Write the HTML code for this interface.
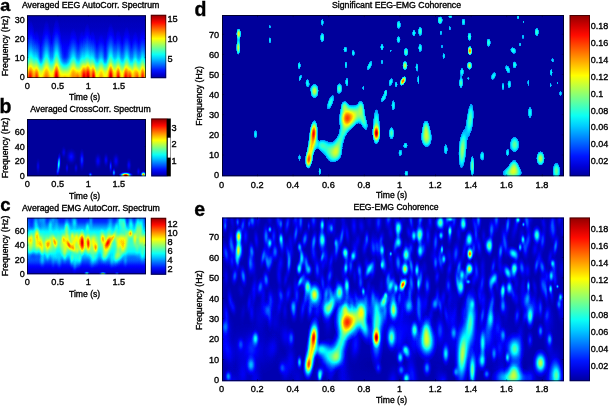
<!DOCTYPE html>
<html><head><meta charset="utf-8"><title>EEG-EMG Coherence</title>
<style>html,body{margin:0;padding:0;background:#fff}svg{display:block}text{font-family:"Liberation Sans",Arial,sans-serif;fill:#000;stroke:#000;stroke-width:0.35px}</style></head><body>
<svg width="609" height="407" viewBox="0 0 609 407">
<defs>
<radialGradient id="g"><stop offset="0.000" stop-color="#fff" stop-opacity="1.000"/><stop offset="0.071" stop-color="#fff" stop-opacity="0.983"/><stop offset="0.143" stop-color="#fff" stop-opacity="0.933"/><stop offset="0.214" stop-color="#fff" stop-opacity="0.856"/><stop offset="0.286" stop-color="#fff" stop-opacity="0.759"/><stop offset="0.357" stop-color="#fff" stop-opacity="0.650"/><stop offset="0.429" stop-color="#fff" stop-opacity="0.538"/><stop offset="0.500" stop-color="#fff" stop-opacity="0.430"/><stop offset="0.571" stop-color="#fff" stop-opacity="0.332"/><stop offset="0.643" stop-color="#fff" stop-opacity="0.247"/><stop offset="0.714" stop-color="#fff" stop-opacity="0.178"/><stop offset="0.786" stop-color="#fff" stop-opacity="0.124"/><stop offset="0.857" stop-color="#fff" stop-opacity="0.083"/><stop offset="0.929" stop-color="#fff" stop-opacity="0.054"/><stop offset="1.000" stop-color="#fff" stop-opacity="0.000"/></radialGradient>
<radialGradient id="gf"><stop offset="0.000" stop-color="#fff" stop-opacity="1.000"/><stop offset="0.071" stop-color="#fff" stop-opacity="1.000"/><stop offset="0.143" stop-color="#fff" stop-opacity="0.997"/><stop offset="0.214" stop-color="#fff" stop-opacity="0.983"/><stop offset="0.286" stop-color="#fff" stop-opacity="0.948"/><stop offset="0.357" stop-color="#fff" stop-opacity="0.878"/><stop offset="0.429" stop-color="#fff" stop-opacity="0.763"/><stop offset="0.500" stop-color="#fff" stop-opacity="0.607"/><stop offset="0.571" stop-color="#fff" stop-opacity="0.426"/><stop offset="0.643" stop-color="#fff" stop-opacity="0.255"/><stop offset="0.714" stop-color="#fff" stop-opacity="0.125"/><stop offset="0.786" stop-color="#fff" stop-opacity="0.047"/><stop offset="0.857" stop-color="#fff" stop-opacity="0.013"/><stop offset="0.929" stop-color="#fff" stop-opacity="0.003"/><stop offset="1.000" stop-color="#fff" stop-opacity="0.000"/></radialGradient>
<filter id="jet" x="0" y="0" width="1" height="1" color-interpolation-filters="sRGB"><feGaussianBlur stdDeviation="0.6"/><feComponentTransfer><feFuncR type="table" tableValues="0.000 0.000 0.000 0.000 0.000 0.000 0.000 0.000 0.000 0.000 0.000 0.000 0.000 0.000 0.000 0.000 0.000 0.000 0.000 0.000 0.000 0.000 0.000 0.000 0.000 0.000 0.000 0.000 0.000 0.000 0.000 0.000 0.000 0.000 0.000 0.000 0.000 0.000 0.000 0.000 0.000 0.000 0.000 0.000 0.000 0.000 0.000 0.025 0.055 0.085 0.115 0.145 0.175 0.206 0.236 0.266 0.296 0.326 0.356 0.386 0.417 0.447 0.477 0.507 0.537 0.567 0.597 0.627 0.658 0.688 0.718 0.748 0.778 0.808 0.838 0.869 0.899 0.929 0.959 0.989 1.000 1.000 1.000 1.000 1.000 1.000 1.000 1.000 1.000 1.000 1.000 1.000 1.000 1.000 1.000 1.000 1.000 1.000 1.000 1.000 1.000 1.000 1.000 1.000 1.000 1.000 1.000 1.000 1.000 1.000 1.000 1.000 1.000 0.986 0.956 0.926 0.896 0.865 0.835 0.805 0.775 0.745 0.715 0.685 0.654 0.624 0.594 0.564"/><feFuncG type="table" tableValues="0.000 0.000 0.000 0.000 0.000 0.000 0.000 0.000 0.000 0.000 0.000 0.000 0.000 0.000 0.030 0.060 0.090 0.120 0.151 0.181 0.211 0.241 0.271 0.301 0.331 0.362 0.392 0.422 0.452 0.482 0.512 0.542 0.573 0.603 0.633 0.663 0.693 0.723 0.753 0.784 0.814 0.844 0.874 0.904 0.934 0.964 0.995 1.000 1.000 1.000 1.000 1.000 1.000 1.000 1.000 1.000 1.000 1.000 1.000 1.000 1.000 1.000 1.000 1.000 1.000 1.000 1.000 1.000 1.000 1.000 1.000 1.000 1.000 1.000 1.000 1.000 1.000 1.000 1.000 1.000 0.981 0.951 0.920 0.890 0.860 0.830 0.800 0.770 0.740 0.709 0.679 0.649 0.619 0.589 0.559 0.529 0.498 0.468 0.438 0.408 0.378 0.348 0.318 0.287 0.257 0.227 0.197 0.167 0.137 0.107 0.076 0.046 0.016 0.000 0.000 0.000 0.000 0.000 0.000 0.000 0.000 0.000 0.000 0.000 0.000 0.000 0.000 0.000"/><feFuncB type="table" tableValues="0.608 0.638 0.668 0.698 0.729 0.759 0.789 0.819 0.849 0.879 0.909 0.940 0.970 1.000 1.000 1.000 1.000 1.000 1.000 1.000 1.000 1.000 1.000 1.000 1.000 1.000 1.000 1.000 1.000 1.000 1.000 1.000 1.000 1.000 1.000 1.000 1.000 1.000 1.000 1.000 1.000 1.000 1.000 1.000 1.000 1.000 1.000 0.975 0.945 0.915 0.885 0.855 0.825 0.794 0.764 0.734 0.704 0.674 0.644 0.614 0.583 0.553 0.523 0.493 0.463 0.433 0.403 0.373 0.342 0.312 0.282 0.252 0.222 0.192 0.162 0.131 0.101 0.071 0.041 0.011 0.000 0.000 0.000 0.000 0.000 0.000 0.000 0.000 0.000 0.000 0.000 0.000 0.000 0.000 0.000 0.000 0.000 0.000 0.000 0.000 0.000 0.000 0.000 0.000 0.000 0.000 0.000 0.000 0.000 0.000 0.000 0.000 0.000 0.000 0.000 0.000 0.000 0.000 0.000 0.000 0.000 0.000 0.000 0.000 0.000 0.000 0.000 0.000"/></feComponentTransfer></filter>
<filter id="jetd" x="0" y="0" width="1" height="1" color-interpolation-filters="sRGB"><feGaussianBlur stdDeviation="0.3"/><feComponentTransfer><feFuncR type="table" tableValues="0.000 0.000 0.000 0.000 0.000 0.000 0.000 0.000 0.000 0.000 0.000 0.000 0.000 0.000 0.000 0.000 0.000 0.000 0.000 0.000 0.000 0.000 0.000 0.000 0.000 0.000 0.000 0.000 0.000 0.000 0.000 0.000 0.000 0.000 0.000 0.000 0.000 0.000 0.000 0.000 0.000 0.000 0.000 0.000 0.000 0.000 0.000 0.025 0.055 0.085 0.115 0.145 0.175 0.206 0.236 0.266 0.296 0.326 0.356 0.386 0.417 0.447 0.477 0.507 0.537 0.567 0.597 0.627 0.658 0.688 0.718 0.748 0.778 0.808 0.838 0.869 0.899 0.929 0.959 0.989 1.000 1.000 1.000 1.000 1.000 1.000 1.000 1.000 1.000 1.000 1.000 1.000 1.000 1.000 1.000 1.000 1.000 1.000 1.000 1.000 1.000 1.000 1.000 1.000 1.000 1.000 1.000 1.000 1.000 1.000 1.000 1.000 1.000 0.986 0.956 0.926 0.896 0.865 0.835 0.805 0.775 0.745 0.715 0.685 0.654 0.624 0.594 0.564"/><feFuncG type="table" tableValues="0.000 0.000 0.000 0.000 0.000 0.000 0.000 0.000 0.000 0.000 0.000 0.000 0.000 0.000 0.000 0.000 0.000 0.000 0.000 0.000 0.000 0.000 0.000 0.000 0.000 0.000 0.000 0.000 0.000 0.000 0.000 0.000 0.573 0.603 0.633 0.663 0.693 0.723 0.753 0.784 0.814 0.844 0.874 0.904 0.934 0.964 0.995 1.000 1.000 1.000 1.000 1.000 1.000 1.000 1.000 1.000 1.000 1.000 1.000 1.000 1.000 1.000 1.000 1.000 1.000 1.000 1.000 1.000 1.000 1.000 1.000 1.000 1.000 1.000 1.000 1.000 1.000 1.000 1.000 1.000 0.981 0.951 0.920 0.890 0.860 0.830 0.800 0.770 0.740 0.709 0.679 0.649 0.619 0.589 0.559 0.529 0.498 0.468 0.438 0.408 0.378 0.348 0.318 0.287 0.257 0.227 0.197 0.167 0.137 0.107 0.076 0.046 0.016 0.000 0.000 0.000 0.000 0.000 0.000 0.000 0.000 0.000 0.000 0.000 0.000 0.000 0.000 0.000"/><feFuncB type="table" tableValues="0.608 0.608 0.608 0.608 0.608 0.608 0.608 0.608 0.608 0.608 0.608 0.608 0.608 0.608 0.608 0.608 0.608 0.608 0.608 0.608 0.608 0.608 0.608 0.608 0.608 0.608 0.608 0.608 0.608 0.608 0.608 0.608 1.000 1.000 1.000 1.000 1.000 1.000 1.000 1.000 1.000 1.000 1.000 1.000 1.000 1.000 1.000 0.975 0.945 0.915 0.885 0.855 0.825 0.794 0.764 0.734 0.704 0.674 0.644 0.614 0.583 0.553 0.523 0.493 0.463 0.433 0.403 0.373 0.342 0.312 0.282 0.252 0.222 0.192 0.162 0.131 0.101 0.071 0.041 0.011 0.000 0.000 0.000 0.000 0.000 0.000 0.000 0.000 0.000 0.000 0.000 0.000 0.000 0.000 0.000 0.000 0.000 0.000 0.000 0.000 0.000 0.000 0.000 0.000 0.000 0.000 0.000 0.000 0.000 0.000 0.000 0.000 0.000 0.000 0.000 0.000 0.000 0.000 0.000 0.000 0.000 0.000 0.000 0.000 0.000 0.000 0.000 0.000"/></feComponentTransfer><feGaussianBlur stdDeviation="0.55"/></filter>
<linearGradient id="cb" x1="0" y1="0" x2="0" y2="1"><stop offset="0.0000" stop-color="#900000"/><stop offset="0.0625" stop-color="#cd0000"/><stop offset="0.1250" stop-color="#ff0b00"/><stop offset="0.1875" stop-color="#ff4800"/><stop offset="0.2500" stop-color="#ff8500"/><stop offset="0.3125" stop-color="#ffc200"/><stop offset="0.3750" stop-color="#ffff00"/><stop offset="0.4375" stop-color="#c2ff3d"/><stop offset="0.5000" stop-color="#85ff7a"/><stop offset="0.5625" stop-color="#48ffb7"/><stop offset="0.6250" stop-color="#0bfff4"/><stop offset="0.6875" stop-color="#00cdff"/><stop offset="0.7500" stop-color="#0090ff"/><stop offset="0.8125" stop-color="#0053ff"/><stop offset="0.8750" stop-color="#0016ff"/><stop offset="0.9375" stop-color="#0000d8"/><stop offset="1.0000" stop-color="#00009b"/></linearGradient>
<clipPath id="clipa"><rect x="27" y="15.2" width="119" height="62.8"/></clipPath>
<clipPath id="clipb"><rect x="27" y="119" width="119" height="57.30000000000001"/></clipPath>
<clipPath id="clipc"><rect x="27" y="217.7" width="119" height="56.60000000000002"/></clipPath>
<clipPath id="clipd"><rect x="222" y="15" width="342" height="161.3"/></clipPath>
<clipPath id="clipe"><rect x="222" y="217.5" width="342" height="163.7"/></clipPath>
<linearGradient id="abase" x1="0" y1="0" x2="0" y2="1"><stop offset="0.000" stop-color="rgb(6,6,6)"/><stop offset="0.238" stop-color="rgb(11,11,11)"/><stop offset="0.429" stop-color="rgb(21,21,21)"/><stop offset="0.556" stop-color="rgb(33,33,33)"/><stop offset="0.667" stop-color="rgb(48,48,48)"/><stop offset="0.746" stop-color="rgb(71,71,71)"/><stop offset="0.825" stop-color="rgb(107,107,107)"/><stop offset="0.905" stop-color="rgb(140,140,140)"/><stop offset="1.000" stop-color="rgb(158,158,158)"/></linearGradient><linearGradient id="cbase" x1="0" y1="0" x2="0" y2="1"><stop offset="0.000" stop-color="rgb(30,30,30)"/><stop offset="0.080" stop-color="rgb(39,39,39)"/><stop offset="0.150" stop-color="rgb(61,61,61)"/><stop offset="0.239" stop-color="rgb(89,89,89)"/><stop offset="0.345" stop-color="rgb(107,107,107)"/><stop offset="0.504" stop-color="rgb(107,107,107)"/><stop offset="0.611" stop-color="rgb(91,91,91)"/><stop offset="0.699" stop-color="rgb(71,71,71)"/><stop offset="0.770" stop-color="rgb(48,48,48)"/><stop offset="0.841" stop-color="rgb(31,31,31)"/><stop offset="0.912" stop-color="rgb(20,20,20)"/><stop offset="1.000" stop-color="rgb(10,10,10)"/></linearGradient><radialGradient id="k"><stop offset="0.000" stop-color="#000" stop-opacity="1.000"/><stop offset="0.071" stop-color="#000" stop-opacity="0.983"/><stop offset="0.143" stop-color="#000" stop-opacity="0.933"/><stop offset="0.214" stop-color="#000" stop-opacity="0.856"/><stop offset="0.286" stop-color="#000" stop-opacity="0.759"/><stop offset="0.357" stop-color="#000" stop-opacity="0.650"/><stop offset="0.429" stop-color="#000" stop-opacity="0.538"/><stop offset="0.500" stop-color="#000" stop-opacity="0.430"/><stop offset="0.571" stop-color="#000" stop-opacity="0.332"/><stop offset="0.643" stop-color="#000" stop-opacity="0.247"/><stop offset="0.714" stop-color="#000" stop-opacity="0.178"/><stop offset="0.786" stop-color="#000" stop-opacity="0.124"/><stop offset="0.857" stop-color="#000" stop-opacity="0.083"/><stop offset="0.929" stop-color="#000" stop-opacity="0.054"/><stop offset="1.000" stop-color="#000" stop-opacity="0.000"/></radialGradient>
</defs>
<g clip-path="url(#clipd)"><g filter="url(#jetd)">
<rect x="216" y="9" width="354" height="173.3" fill="rgb(0,0,0)"/>
<ellipse cx="238.7" cy="33.7" rx="4.30" ry="9.56" fill="url(#g)" opacity="0.63"/>
<ellipse cx="238.3" cy="47.5" rx="4.01" ry="14.03" fill="url(#g)" opacity="0.58"/>
<ellipse cx="269.9" cy="26.8" rx="3.36" ry="5.76" fill="url(#g)" opacity="0.33"/>
<ellipse cx="269.9" cy="40.2" rx="3.96" ry="8.52" fill="url(#g)" opacity="0.36"/>
<ellipse cx="322.3" cy="22.3" rx="3.96" ry="10.05" fill="url(#g)" opacity="0.36"/>
<ellipse cx="322.3" cy="37.6" rx="5.23" ry="11.49" fill="url(#g)" opacity="0.42"/>
<ellipse cx="299.2" cy="65.6" rx="4.40" ry="9.38" fill="url(#g)" opacity="0.38"/>
<ellipse cx="300.2" cy="78.0" rx="3.96" ry="10.05" fill="url(#g)" opacity="0.36" transform="rotate(20 300.2 78.0)"/>
<ellipse cx="307.3" cy="83.0" rx="5.11" ry="10.80" fill="url(#g)" opacity="0.38"/>
<ellipse cx="314.5" cy="91.0" rx="8.02" ry="14.03" fill="url(#g)" opacity="0.58"/>
<ellipse cx="339.5" cy="88.5" rx="5.99" ry="11.99" fill="url(#g)" opacity="0.45"/>
<ellipse cx="345.3" cy="49.5" rx="5.11" ry="7.96" fill="url(#g)" opacity="0.38"/>
<ellipse cx="353.2" cy="53.0" rx="4.40" ry="7.96" fill="url(#g)" opacity="0.38"/>
<ellipse cx="345.9" cy="64.8" rx="3.96" ry="10.05" fill="url(#g)" opacity="0.36"/>
<ellipse cx="346.9" cy="82.0" rx="4.40" ry="11.36" fill="url(#g)" opacity="0.38"/>
<ellipse cx="369.6" cy="65.6" rx="5.11" ry="14.21" fill="url(#g)" opacity="0.38" transform="rotate(25 369.6 65.6)"/>
<ellipse cx="363.3" cy="87.9" rx="3.36" ry="7.36" fill="url(#g)" opacity="0.33"/>
<ellipse cx="382" cy="47.1" rx="4.40" ry="9.38" fill="url(#g)" opacity="0.38"/>
<ellipse cx="382" cy="61.9" rx="3.36" ry="7.36" fill="url(#g)" opacity="0.34"/>
<ellipse cx="390.8" cy="50.8" rx="2.56" ry="4.16" fill="url(#g)" opacity="0.33"/>
<ellipse cx="390.8" cy="82.0" rx="5.11" ry="11.36" fill="url(#g)" opacity="0.38" transform="rotate(15 390.8 82.0)"/>
<ellipse cx="396.2" cy="84.5" rx="3.96" ry="8.52" fill="url(#g)" opacity="0.36"/>
<ellipse cx="385.7" cy="91.8" rx="3.36" ry="5.76" fill="url(#g)" opacity="0.33"/>
<ellipse cx="398.7" cy="24.8" rx="5.50" ry="10.73" fill="url(#g)" opacity="0.4"/>
<ellipse cx="398.5" cy="39.6" rx="5.68" ry="9.38" fill="url(#g)" opacity="0.38"/>
<ellipse cx="406" cy="52.0" rx="5.40" ry="9.59" fill="url(#g)" opacity="0.45"/>
<ellipse cx="405" cy="65.6" rx="5.01" ry="9.02" fill="url(#g)" opacity="0.58"/>
<ellipse cx="403" cy="81.0" rx="4.26" ry="8.52" fill="url(#g)" opacity="0.8" transform="rotate(25 403 81.0)"/>
<ellipse cx="413.9" cy="33.1" rx="4.40" ry="9.38" fill="url(#g)" opacity="0.38"/>
<ellipse cx="420.2" cy="31.3" rx="5.12" ry="11.23" fill="url(#g)" opacity="0.43"/>
<ellipse cx="420.2" cy="47.9" rx="4.83" ry="10.73" fill="url(#g)" opacity="0.4"/>
<ellipse cx="416.8" cy="67.2" rx="3.96" ry="11.57" fill="url(#g)" opacity="0.36"/>
<ellipse cx="418.4" cy="80.0" rx="3.20" ry="12.18" fill="url(#g)" opacity="0.36"/>
<ellipse cx="440.1" cy="20.3" rx="5.99" ry="9.11" fill="url(#g)" opacity="0.45"/>
<ellipse cx="450.3" cy="16.4" rx="5.11" ry="4.40" fill="url(#g)" opacity="0.38"/>
<ellipse cx="449.8" cy="28.2" rx="3.36" ry="7.36" fill="url(#g)" opacity="0.33"/>
<ellipse cx="440.9" cy="32.7" rx="4.16" ry="7.36" fill="url(#g)" opacity="0.33"/>
<ellipse cx="442" cy="46.5" rx="2.56" ry="7.36" fill="url(#g)" opacity="0.33"/>
<ellipse cx="443.8" cy="56.0" rx="3.96" ry="8.52" fill="url(#g)" opacity="0.36"/>
<ellipse cx="463.5" cy="21.9" rx="5.11" ry="9.38" fill="url(#g)" opacity="0.38"/>
<ellipse cx="469.5" cy="36.7" rx="5.10" ry="10.21" fill="url(#g)" opacity="0.42"/>
<ellipse cx="469.9" cy="50.8" rx="3.84" ry="7.67" fill="url(#g)" opacity="0.8"/>
<ellipse cx="469.5" cy="65.6" rx="5.01" ry="8.02" fill="url(#g)" opacity="0.58"/>
<ellipse cx="462" cy="71.5" rx="5.11" ry="9.38" fill="url(#g)" opacity="0.38"/>
<ellipse cx="461" cy="83.0" rx="4.80" ry="11.99" fill="url(#g)" opacity="0.45"/>
<ellipse cx="468.3" cy="78.4" rx="4.16" ry="4.16" fill="url(#g)" opacity="0.33"/>
<ellipse cx="488.6" cy="42.6" rx="5.10" ry="10.21" fill="url(#g)" opacity="0.42"/>
<ellipse cx="518.1" cy="17.3" rx="3.96" ry="5.48" fill="url(#g)" opacity="0.36"/>
<ellipse cx="523.4" cy="21.9" rx="2.56" ry="4.16" fill="url(#g)" opacity="0.33"/>
<ellipse cx="523" cy="36.7" rx="3.36" ry="7.36" fill="url(#g)" opacity="0.33"/>
<ellipse cx="520.1" cy="44.5" rx="3.36" ry="7.36" fill="url(#g)" opacity="0.33"/>
<ellipse cx="513.2" cy="50.5" rx="6.70" ry="8.85" fill="url(#g)" opacity="0.4" transform="rotate(-30 513.2 50.5)"/>
<ellipse cx="536.8" cy="32.1" rx="5.12" ry="9.99" fill="url(#g)" opacity="0.43"/>
<ellipse cx="514.6" cy="64.8" rx="5.50" ry="8.85" fill="url(#g)" opacity="0.4"/>
<ellipse cx="507.7" cy="69.2" rx="5.82" ry="11.36" fill="url(#g)" opacity="0.38" transform="rotate(-20 507.7 69.2)"/>
<ellipse cx="493.5" cy="76.0" rx="5.82" ry="11.36" fill="url(#g)" opacity="0.38" transform="rotate(20 493.5 76.0)"/>
<ellipse cx="503" cy="86.5" rx="3.96" ry="10.05" fill="url(#g)" opacity="0.36"/>
<ellipse cx="509.3" cy="84.3" rx="5.11" ry="10.80" fill="url(#g)" opacity="0.38"/>
<ellipse cx="528.4" cy="82.6" rx="3.36" ry="10.56" fill="url(#g)" opacity="0.33"/>
<ellipse cx="552.6" cy="60.3" rx="4.16" ry="7.36" fill="url(#g)" opacity="0.33"/>
<ellipse cx="551.2" cy="72.5" rx="3.96" ry="10.05" fill="url(#g)" opacity="0.36"/>
<ellipse cx="550.6" cy="85.3" rx="3.36" ry="7.36" fill="url(#g)" opacity="0.33"/>
<ellipse cx="557.5" cy="83.0" rx="2.56" ry="3.36" fill="url(#g)" opacity="0.33"/>
<ellipse cx="560.5" cy="93.5" rx="4.16" ry="7.36" fill="url(#g)" opacity="0.34"/>
<ellipse cx="255.5" cy="134.3" rx="5.48" ry="11.57" fill="url(#g)" opacity="0.36"/>
<ellipse cx="313.6" cy="133.5" rx="6.56" ry="21.31" fill="url(#g)" opacity="0.88" transform="rotate(4 313.6 133.5)"/>
<ellipse cx="311.2" cy="147.5" rx="6.73" ry="18.63" fill="url(#g)" opacity="0.55" transform="rotate(6 311.2 147.5)"/>
<ellipse cx="308.8" cy="159.5" rx="6.03" ry="15.51" fill="url(#g)" opacity="0.78" transform="rotate(5 308.8 159.5)"/>
<ellipse cx="299.5" cy="157.6" rx="4.16" ry="10.56" fill="url(#g)" opacity="0.33"/>
<ellipse cx="319.8" cy="171.5" rx="3.96" ry="10.05" fill="url(#g)" opacity="0.36"/>
<ellipse cx="330.5" cy="102.3" rx="6.70" ry="20.11" fill="url(#g)" opacity="0.4" transform="rotate(20 330.5 102.3)"/>
<ellipse cx="347.1" cy="117.8" rx="13.79" ry="18.96" fill="url(#g)" opacity="0.78"/>
<ellipse cx="344.5" cy="106.0" rx="6.70" ry="10.73" fill="url(#g)" opacity="0.4"/>
<ellipse cx="361" cy="108.0" rx="7.66" ry="17.87" fill="url(#g)" opacity="0.42"/>
<ellipse cx="364" cy="122.0" rx="7.66" ry="20.42" fill="url(#g)" opacity="0.42" transform="rotate(-15 364 122.0)"/>
<ellipse cx="341" cy="138.0" rx="9.57" ry="40.84" fill="url(#g)" opacity="0.42" transform="rotate(20 341 138.0)"/>
<ellipse cx="329" cy="151.0" rx="14.21" ry="19.89" fill="url(#g)" opacity="0.38"/>
<ellipse cx="337" cy="153.0" rx="11.20" ry="16.00" fill="url(#g)" opacity="0.34"/>
<ellipse cx="355" cy="115.0" rx="10.21" ry="17.87" fill="url(#g)" opacity="0.42"/>
<ellipse cx="321" cy="145.0" rx="12.18" ry="12.18" fill="url(#g)" opacity="0.36"/>
<ellipse cx="376.4" cy="133.2" rx="4.74" ry="11.05" fill="url(#g)" opacity="0.97"/>
<ellipse cx="376.4" cy="126.5" rx="7.79" ry="40.77" fill="url(#g)" opacity="0.45"/>
<ellipse cx="391.5" cy="133.2" rx="5.99" ry="14.39" fill="url(#g)" opacity="0.45"/>
<ellipse cx="393.3" cy="105.4" rx="5.11" ry="14.21" fill="url(#g)" opacity="0.38"/>
<ellipse cx="383.6" cy="98.0" rx="5.68" ry="11.36" fill="url(#g)" opacity="0.38" transform="rotate(25 383.6 98.0)"/>
<ellipse cx="405.5" cy="145.4" rx="5.68" ry="7.96" fill="url(#g)" opacity="0.38"/>
<ellipse cx="400.3" cy="152.9" rx="5.48" ry="10.05" fill="url(#g)" opacity="0.36"/>
<ellipse cx="406.3" cy="173.5" rx="5.11" ry="7.96" fill="url(#g)" opacity="0.38"/>
<ellipse cx="426.6" cy="138.5" rx="11.04" ry="18.77" fill="url(#g)" opacity="0.5"/>
<ellipse cx="426" cy="128.0" rx="7.02" ry="17.87" fill="url(#g)" opacity="0.42"/>
<ellipse cx="445.8" cy="149.3" rx="5.48" ry="15.22" fill="url(#g)" opacity="0.36"/>
<ellipse cx="470.2" cy="119.0" rx="7.79" ry="35.97" fill="url(#g)" opacity="0.45" transform="rotate(4 470.2 119.0)"/>
<ellipse cx="462.4" cy="150.0" rx="8.06" ry="38.67" fill="url(#g)" opacity="0.52" transform="rotate(3 462.4 150.0)"/>
<ellipse cx="472.3" cy="166.0" rx="4.63" ry="23.14" fill="url(#g)" opacity="0.47"/>
<ellipse cx="482.2" cy="156.0" rx="5.82" ry="12.79" fill="url(#g)" opacity="0.38"/>
<ellipse cx="514.6" cy="144.6" rx="10.41" ry="17.35" fill="url(#g)" opacity="0.47"/>
<ellipse cx="507.4" cy="153.0" rx="4.16" ry="8.96" fill="url(#g)" opacity="0.34"/>
<ellipse cx="512" cy="173.0" rx="21.19" ry="11.77" fill="url(#g)" opacity="0.46"/>
<ellipse cx="514" cy="166.5" rx="9.59" ry="14.39" fill="url(#g)" opacity="0.45"/>
<ellipse cx="530" cy="112.6" rx="5.68" ry="15.63" fill="url(#g)" opacity="0.38"/>
<ellipse cx="540.5" cy="158.4" rx="8.28" ry="14.49" fill="url(#g)" opacity="0.55"/>
<ellipse cx="556.4" cy="171.0" rx="8.10" ry="18.51" fill="url(#g)" opacity="0.47"/>
</g></g>
<g clip-path="url(#clipe)"><g filter="url(#jet)">
<rect x="216" y="211.5" width="354" height="175.7" fill="rgb(6,6,6)"/>
<ellipse cx="225.2" cy="217.3" rx="4.06" ry="10.43" fill="url(#g)" opacity="0.142" transform="rotate(-3 225.2 217.3)"/>
<ellipse cx="232.1" cy="221.6" rx="3.30" ry="12.60" fill="url(#g)" opacity="0.053" transform="rotate(-8 232.1 221.6)"/>
<ellipse cx="242.8" cy="225.4" rx="3.40" ry="11.34" fill="url(#g)" opacity="0.159" transform="rotate(9 242.8 225.4)"/>
<ellipse cx="252.2" cy="220.3" rx="4.47" ry="10.28" fill="url(#g)" opacity="0.203" transform="rotate(-4 252.2 220.3)"/>
<ellipse cx="258.1" cy="216.9" rx="3.64" ry="14.90" fill="url(#g)" opacity="0.074" transform="rotate(2 258.1 216.9)"/>
<ellipse cx="269.6" cy="220.0" rx="3.93" ry="10.38" fill="url(#g)" opacity="0.051" transform="rotate(-6 269.6 220.0)"/>
<ellipse cx="278.3" cy="220.6" rx="3.64" ry="13.51" fill="url(#g)" opacity="0.126" transform="rotate(-4 278.3 220.6)"/>
<ellipse cx="287.5" cy="223.9" rx="3.56" ry="13.45" fill="url(#g)" opacity="0.140" transform="rotate(8 287.5 223.9)"/>
<ellipse cx="295.6" cy="219.0" rx="4.48" ry="10.71" fill="url(#g)" opacity="0.119" transform="rotate(5 295.6 219.0)"/>
<ellipse cx="300.7" cy="221.4" rx="3.30" ry="14.01" fill="url(#g)" opacity="0.185" transform="rotate(1 300.7 221.4)"/>
<ellipse cx="313.5" cy="219.3" rx="4.12" ry="13.57" fill="url(#g)" opacity="0.150" transform="rotate(-1 313.5 219.3)"/>
<ellipse cx="321.8" cy="226.8" rx="3.84" ry="13.98" fill="url(#g)" opacity="0.052" transform="rotate(4 321.8 226.8)"/>
<ellipse cx="329.1" cy="227.4" rx="4.28" ry="11.71" fill="url(#g)" opacity="0.113" transform="rotate(3 329.1 227.4)"/>
<ellipse cx="333.9" cy="221.0" rx="3.46" ry="10.70" fill="url(#g)" opacity="0.051" transform="rotate(5 333.9 221.0)"/>
<ellipse cx="343.0" cy="218.5" rx="3.74" ry="15.23" fill="url(#g)" opacity="0.055" transform="rotate(-1 343.0 218.5)"/>
<ellipse cx="354.0" cy="226.1" rx="4.27" ry="15.18" fill="url(#g)" opacity="0.093" transform="rotate(-2 354.0 226.1)"/>
<ellipse cx="361.4" cy="226.1" rx="4.45" ry="10.91" fill="url(#g)" opacity="0.073" transform="rotate(-5 361.4 226.1)"/>
<ellipse cx="369.2" cy="221.3" rx="3.99" ry="11.58" fill="url(#g)" opacity="0.041" transform="rotate(-2 369.2 221.3)"/>
<ellipse cx="378.5" cy="222.3" rx="4.44" ry="14.14" fill="url(#g)" opacity="0.138" transform="rotate(2 378.5 222.3)"/>
<ellipse cx="388.8" cy="216.1" rx="4.37" ry="14.68" fill="url(#g)" opacity="0.206" transform="rotate(6 388.8 216.1)"/>
<ellipse cx="395.6" cy="220.3" rx="3.38" ry="13.81" fill="url(#g)" opacity="0.052" transform="rotate(-9 395.6 220.3)"/>
<ellipse cx="403.0" cy="217.4" rx="3.68" ry="10.32" fill="url(#g)" opacity="0.040" transform="rotate(-7 403.0 217.4)"/>
<ellipse cx="410.9" cy="219.9" rx="3.28" ry="15.25" fill="url(#g)" opacity="0.157" transform="rotate(-7 410.9 219.9)"/>
<ellipse cx="420.3" cy="219.7" rx="3.71" ry="10.74" fill="url(#g)" opacity="0.201" transform="rotate(10 420.3 219.7)"/>
<ellipse cx="430.0" cy="221.3" rx="3.36" ry="10.61" fill="url(#g)" opacity="0.105" transform="rotate(-5 430.0 221.3)"/>
<ellipse cx="440.7" cy="217.4" rx="3.28" ry="15.71" fill="url(#g)" opacity="0.140" transform="rotate(-7 440.7 217.4)"/>
<ellipse cx="447.5" cy="215.8" rx="3.91" ry="15.87" fill="url(#g)" opacity="0.204" transform="rotate(4 447.5 215.8)"/>
<ellipse cx="454.3" cy="219.9" rx="3.46" ry="14.63" fill="url(#g)" opacity="0.141" transform="rotate(6 454.3 219.9)"/>
<ellipse cx="463.2" cy="218.2" rx="4.26" ry="15.91" fill="url(#g)" opacity="0.202" transform="rotate(6 463.2 218.2)"/>
<ellipse cx="474.7" cy="224.4" rx="3.53" ry="13.11" fill="url(#g)" opacity="0.108" transform="rotate(-9 474.7 224.4)"/>
<ellipse cx="478.4" cy="218.9" rx="3.57" ry="14.16" fill="url(#g)" opacity="0.222" transform="rotate(-1 478.4 218.9)"/>
<ellipse cx="492.4" cy="227.4" rx="4.44" ry="12.19" fill="url(#g)" opacity="0.082" transform="rotate(-5 492.4 227.4)"/>
<ellipse cx="496.4" cy="218.0" rx="4.03" ry="15.40" fill="url(#g)" opacity="0.200" transform="rotate(-0 496.4 218.0)"/>
<ellipse cx="507.7" cy="225.1" rx="3.36" ry="13.96" fill="url(#g)" opacity="0.213" transform="rotate(6 507.7 225.1)"/>
<ellipse cx="516.8" cy="221.2" rx="3.47" ry="14.73" fill="url(#g)" opacity="0.103" transform="rotate(6 516.8 221.2)"/>
<ellipse cx="526.6" cy="220.3" rx="3.75" ry="15.68" fill="url(#g)" opacity="0.178" transform="rotate(-7 526.6 220.3)"/>
<ellipse cx="530.0" cy="217.3" rx="4.38" ry="14.84" fill="url(#g)" opacity="0.068" transform="rotate(7 530.0 217.3)"/>
<ellipse cx="543.6" cy="223.4" rx="3.69" ry="13.29" fill="url(#g)" opacity="0.065" transform="rotate(-10 543.6 223.4)"/>
<ellipse cx="552.1" cy="223.3" rx="3.91" ry="15.60" fill="url(#g)" opacity="0.122" transform="rotate(7 552.1 223.3)"/>
<ellipse cx="559.7" cy="218.0" rx="3.56" ry="11.76" fill="url(#g)" opacity="0.086" transform="rotate(2 559.7 218.0)"/>
<ellipse cx="564.8" cy="220.5" rx="3.41" ry="15.46" fill="url(#g)" opacity="0.107" transform="rotate(-1 564.8 220.5)"/>
<ellipse cx="231.0" cy="241.4" rx="3.78" ry="15.51" fill="url(#g)" opacity="0.135" transform="rotate(1 231.0 241.4)"/>
<ellipse cx="239.1" cy="230.7" rx="3.80" ry="11.10" fill="url(#g)" opacity="0.041" transform="rotate(6 239.1 230.7)"/>
<ellipse cx="245.5" cy="236.2" rx="4.16" ry="13.34" fill="url(#g)" opacity="0.102" transform="rotate(0 245.5 236.2)"/>
<ellipse cx="256.3" cy="239.9" rx="3.38" ry="13.36" fill="url(#g)" opacity="0.087" transform="rotate(-4 256.3 239.9)"/>
<ellipse cx="266.1" cy="236.6" rx="3.95" ry="14.56" fill="url(#g)" opacity="0.213" transform="rotate(-1 266.1 236.6)"/>
<ellipse cx="273.7" cy="236.6" rx="3.89" ry="14.16" fill="url(#g)" opacity="0.126" transform="rotate(1 273.7 236.6)"/>
<ellipse cx="281.4" cy="241.8" rx="4.12" ry="15.26" fill="url(#g)" opacity="0.219" transform="rotate(-5 281.4 241.8)"/>
<ellipse cx="290.4" cy="241.8" rx="4.30" ry="10.82" fill="url(#g)" opacity="0.063" transform="rotate(-1 290.4 241.8)"/>
<ellipse cx="295.9" cy="233.4" rx="3.34" ry="14.02" fill="url(#g)" opacity="0.189" transform="rotate(8 295.9 233.4)"/>
<ellipse cx="304.9" cy="239.1" rx="4.08" ry="10.86" fill="url(#g)" opacity="0.208" transform="rotate(9 304.9 239.1)"/>
<ellipse cx="313.8" cy="241.9" rx="3.75" ry="12.92" fill="url(#g)" opacity="0.228" transform="rotate(7 313.8 241.9)"/>
<ellipse cx="322.0" cy="235.7" rx="3.89" ry="12.03" fill="url(#g)" opacity="0.077" transform="rotate(-4 322.0 235.7)"/>
<ellipse cx="333.8" cy="230.7" rx="3.94" ry="12.64" fill="url(#g)" opacity="0.043" transform="rotate(-3 333.8 230.7)"/>
<ellipse cx="341.7" cy="236.6" rx="3.33" ry="15.91" fill="url(#g)" opacity="0.190" transform="rotate(9 341.7 236.6)"/>
<ellipse cx="347.1" cy="233.7" rx="3.30" ry="14.67" fill="url(#g)" opacity="0.091" transform="rotate(-7 347.1 233.7)"/>
<ellipse cx="357.5" cy="241.4" rx="4.27" ry="11.55" fill="url(#g)" opacity="0.068" transform="rotate(8 357.5 241.4)"/>
<ellipse cx="366.9" cy="238.9" rx="3.36" ry="10.35" fill="url(#g)" opacity="0.171" transform="rotate(-1 366.9 238.9)"/>
<ellipse cx="372.4" cy="241.8" rx="4.04" ry="14.81" fill="url(#g)" opacity="0.056" transform="rotate(7 372.4 241.8)"/>
<ellipse cx="380.9" cy="240.9" rx="3.82" ry="12.03" fill="url(#g)" opacity="0.145" transform="rotate(9 380.9 240.9)"/>
<ellipse cx="390.6" cy="232.1" rx="3.91" ry="11.43" fill="url(#g)" opacity="0.061" transform="rotate(-7 390.6 232.1)"/>
<ellipse cx="397.8" cy="232.9" rx="3.64" ry="11.83" fill="url(#g)" opacity="0.184" transform="rotate(-4 397.8 232.9)"/>
<ellipse cx="409.0" cy="232.6" rx="3.68" ry="10.11" fill="url(#g)" opacity="0.088" transform="rotate(-10 409.0 232.6)"/>
<ellipse cx="418.9" cy="237.1" rx="3.49" ry="12.85" fill="url(#g)" opacity="0.218" transform="rotate(-8 418.9 237.1)"/>
<ellipse cx="427.9" cy="235.7" rx="3.87" ry="15.01" fill="url(#g)" opacity="0.115" transform="rotate(0 427.9 235.7)"/>
<ellipse cx="435.6" cy="242.3" rx="3.68" ry="14.99" fill="url(#g)" opacity="0.174" transform="rotate(3 435.6 242.3)"/>
<ellipse cx="442.4" cy="234.7" rx="3.32" ry="10.78" fill="url(#g)" opacity="0.053" transform="rotate(5 442.4 234.7)"/>
<ellipse cx="450.0" cy="232.5" rx="3.36" ry="15.05" fill="url(#g)" opacity="0.205" transform="rotate(3 450.0 232.5)"/>
<ellipse cx="458.7" cy="233.4" rx="3.62" ry="12.76" fill="url(#g)" opacity="0.070" transform="rotate(-1 458.7 233.4)"/>
<ellipse cx="467.1" cy="242.0" rx="4.47" ry="13.28" fill="url(#g)" opacity="0.086" transform="rotate(9 467.1 242.0)"/>
<ellipse cx="475.9" cy="234.8" rx="3.25" ry="12.29" fill="url(#g)" opacity="0.130" transform="rotate(0 475.9 234.8)"/>
<ellipse cx="483.7" cy="236.6" rx="3.26" ry="11.59" fill="url(#g)" opacity="0.057" transform="rotate(-2 483.7 236.6)"/>
<ellipse cx="491.3" cy="230.8" rx="3.63" ry="11.40" fill="url(#g)" opacity="0.151" transform="rotate(1 491.3 230.8)"/>
<ellipse cx="504.0" cy="238.4" rx="4.14" ry="15.27" fill="url(#g)" opacity="0.114" transform="rotate(-3 504.0 238.4)"/>
<ellipse cx="513.9" cy="232.3" rx="4.16" ry="13.86" fill="url(#g)" opacity="0.048" transform="rotate(7 513.9 232.3)"/>
<ellipse cx="521.9" cy="238.0" rx="4.17" ry="14.87" fill="url(#g)" opacity="0.066" transform="rotate(0 521.9 238.0)"/>
<ellipse cx="528.0" cy="240.5" rx="4.26" ry="14.96" fill="url(#g)" opacity="0.151" transform="rotate(8 528.0 240.5)"/>
<ellipse cx="537.6" cy="238.8" rx="3.54" ry="10.19" fill="url(#g)" opacity="0.065" transform="rotate(-3 537.6 238.8)"/>
<ellipse cx="542.6" cy="240.5" rx="3.95" ry="13.77" fill="url(#g)" opacity="0.159" transform="rotate(4 542.6 240.5)"/>
<ellipse cx="553.4" cy="230.5" rx="4.25" ry="14.49" fill="url(#g)" opacity="0.136" transform="rotate(1 553.4 230.5)"/>
<ellipse cx="563.0" cy="231.3" rx="4.17" ry="11.51" fill="url(#g)" opacity="0.054" transform="rotate(-5 563.0 231.3)"/>
<ellipse cx="571.9" cy="233.0" rx="4.17" ry="15.85" fill="url(#g)" opacity="0.134" transform="rotate(-2 571.9 233.0)"/>
<ellipse cx="226.1" cy="253.7" rx="4.21" ry="13.70" fill="url(#g)" opacity="0.162" transform="rotate(-8 226.1 253.7)"/>
<ellipse cx="232.6" cy="248.5" rx="4.18" ry="11.83" fill="url(#g)" opacity="0.148" transform="rotate(-10 232.6 248.5)"/>
<ellipse cx="240.6" cy="248.7" rx="4.09" ry="14.15" fill="url(#g)" opacity="0.168" transform="rotate(-4 240.6 248.7)"/>
<ellipse cx="251.8" cy="251.1" rx="3.83" ry="10.71" fill="url(#g)" opacity="0.210" transform="rotate(-6 251.8 251.1)"/>
<ellipse cx="263.1" cy="256.7" rx="3.27" ry="12.75" fill="url(#g)" opacity="0.196" transform="rotate(9 263.1 256.7)"/>
<ellipse cx="268.4" cy="248.7" rx="3.51" ry="15.67" fill="url(#g)" opacity="0.080" transform="rotate(2 268.4 248.7)"/>
<ellipse cx="275.1" cy="251.8" rx="4.44" ry="10.80" fill="url(#g)" opacity="0.196" transform="rotate(0 275.1 251.8)"/>
<ellipse cx="288.1" cy="253.9" rx="3.54" ry="15.39" fill="url(#g)" opacity="0.132" transform="rotate(-10 288.1 253.9)"/>
<ellipse cx="291.3" cy="251.4" rx="3.81" ry="11.81" fill="url(#g)" opacity="0.067" transform="rotate(-3 291.3 251.4)"/>
<ellipse cx="301.6" cy="255.6" rx="3.25" ry="14.50" fill="url(#g)" opacity="0.199" transform="rotate(-8 301.6 255.6)"/>
<ellipse cx="313.8" cy="254.1" rx="4.38" ry="11.74" fill="url(#g)" opacity="0.111" transform="rotate(-2 313.8 254.1)"/>
<ellipse cx="322.7" cy="252.6" rx="3.70" ry="12.57" fill="url(#g)" opacity="0.092" transform="rotate(-9 322.7 252.6)"/>
<ellipse cx="325.9" cy="255.5" rx="3.61" ry="15.61" fill="url(#g)" opacity="0.087" transform="rotate(-5 325.9 255.5)"/>
<ellipse cx="336.8" cy="247.8" rx="3.72" ry="15.74" fill="url(#g)" opacity="0.208" transform="rotate(6 336.8 247.8)"/>
<ellipse cx="346.0" cy="256.5" rx="4.43" ry="13.30" fill="url(#g)" opacity="0.177" transform="rotate(-9 346.0 256.5)"/>
<ellipse cx="355.1" cy="250.9" rx="4.19" ry="13.87" fill="url(#g)" opacity="0.094" transform="rotate(-9 355.1 250.9)"/>
<ellipse cx="364.8" cy="247.0" rx="3.84" ry="12.06" fill="url(#g)" opacity="0.097" transform="rotate(5 364.8 247.0)"/>
<ellipse cx="373.6" cy="248.6" rx="4.07" ry="11.81" fill="url(#g)" opacity="0.146" transform="rotate(-2 373.6 248.6)"/>
<ellipse cx="377.3" cy="247.4" rx="3.51" ry="15.44" fill="url(#g)" opacity="0.134" transform="rotate(-6 377.3 247.4)"/>
<ellipse cx="390.2" cy="257.5" rx="3.81" ry="10.84" fill="url(#g)" opacity="0.077" transform="rotate(-8 390.2 257.5)"/>
<ellipse cx="395.3" cy="246.6" rx="3.55" ry="11.55" fill="url(#g)" opacity="0.148" transform="rotate(8 395.3 246.6)"/>
<ellipse cx="406.2" cy="250.5" rx="3.77" ry="13.15" fill="url(#g)" opacity="0.112" transform="rotate(-3 406.2 250.5)"/>
<ellipse cx="410.6" cy="248.8" rx="4.46" ry="10.76" fill="url(#g)" opacity="0.136" transform="rotate(3 410.6 248.8)"/>
<ellipse cx="423.9" cy="248.1" rx="3.59" ry="11.49" fill="url(#g)" opacity="0.116" transform="rotate(-1 423.9 248.1)"/>
<ellipse cx="433.0" cy="255.7" rx="4.34" ry="10.13" fill="url(#g)" opacity="0.046" transform="rotate(4 433.0 255.7)"/>
<ellipse cx="441.1" cy="251.2" rx="3.98" ry="10.00" fill="url(#g)" opacity="0.114" transform="rotate(9 441.1 251.2)"/>
<ellipse cx="449.2" cy="255.8" rx="4.47" ry="11.49" fill="url(#g)" opacity="0.061" transform="rotate(-7 449.2 255.8)"/>
<ellipse cx="455.9" cy="253.7" rx="4.43" ry="14.33" fill="url(#g)" opacity="0.163" transform="rotate(5 455.9 253.7)"/>
<ellipse cx="464.0" cy="252.1" rx="3.30" ry="14.69" fill="url(#g)" opacity="0.084" transform="rotate(8 464.0 252.1)"/>
<ellipse cx="473.6" cy="249.1" rx="3.41" ry="11.51" fill="url(#g)" opacity="0.161" transform="rotate(4 473.6 249.1)"/>
<ellipse cx="478.9" cy="246.3" rx="3.91" ry="13.50" fill="url(#g)" opacity="0.114" transform="rotate(-6 478.9 246.3)"/>
<ellipse cx="490.4" cy="245.6" rx="3.63" ry="12.76" fill="url(#g)" opacity="0.222" transform="rotate(3 490.4 245.6)"/>
<ellipse cx="500.6" cy="251.2" rx="3.54" ry="11.48" fill="url(#g)" opacity="0.223" transform="rotate(4 500.6 251.2)"/>
<ellipse cx="505.6" cy="245.8" rx="3.87" ry="14.05" fill="url(#g)" opacity="0.120" transform="rotate(-5 505.6 245.8)"/>
<ellipse cx="516.3" cy="256.6" rx="3.53" ry="10.20" fill="url(#g)" opacity="0.104" transform="rotate(-2 516.3 256.6)"/>
<ellipse cx="524.8" cy="247.9" rx="4.25" ry="14.43" fill="url(#g)" opacity="0.136" transform="rotate(-6 524.8 247.9)"/>
<ellipse cx="535.1" cy="249.2" rx="4.28" ry="11.38" fill="url(#g)" opacity="0.082" transform="rotate(5 535.1 249.2)"/>
<ellipse cx="539.5" cy="256.9" rx="3.87" ry="11.12" fill="url(#g)" opacity="0.082" transform="rotate(-2 539.5 256.9)"/>
<ellipse cx="550.2" cy="256.9" rx="3.43" ry="12.36" fill="url(#g)" opacity="0.080" transform="rotate(9 550.2 256.9)"/>
<ellipse cx="555.6" cy="246.1" rx="3.33" ry="12.36" fill="url(#g)" opacity="0.211" transform="rotate(8 555.6 246.1)"/>
<ellipse cx="567.6" cy="257.5" rx="4.41" ry="11.98" fill="url(#g)" opacity="0.075" transform="rotate(9 567.6 257.5)"/>
<ellipse cx="232.0" cy="260.9" rx="4.08" ry="12.27" fill="url(#g)" opacity="0.111" transform="rotate(-3 232.0 260.9)"/>
<ellipse cx="237.0" cy="260.5" rx="3.60" ry="12.11" fill="url(#g)" opacity="0.222" transform="rotate(-8 237.0 260.5)"/>
<ellipse cx="250.3" cy="263.0" rx="3.70" ry="14.93" fill="url(#g)" opacity="0.196" transform="rotate(-1 250.3 263.0)"/>
<ellipse cx="253.3" cy="266.2" rx="3.72" ry="15.52" fill="url(#g)" opacity="0.077" transform="rotate(-3 253.3 266.2)"/>
<ellipse cx="266.9" cy="260.9" rx="3.76" ry="14.87" fill="url(#g)" opacity="0.186" transform="rotate(-9 266.9 260.9)"/>
<ellipse cx="270.2" cy="261.3" rx="4.40" ry="11.54" fill="url(#g)" opacity="0.182" transform="rotate(8 270.2 261.3)"/>
<ellipse cx="280.5" cy="263.8" rx="4.45" ry="13.70" fill="url(#g)" opacity="0.090" transform="rotate(4 280.5 263.8)"/>
<ellipse cx="288.9" cy="263.8" rx="3.25" ry="14.53" fill="url(#g)" opacity="0.214" transform="rotate(3 288.9 263.8)"/>
<ellipse cx="301.2" cy="260.8" rx="3.54" ry="12.85" fill="url(#g)" opacity="0.222" transform="rotate(9 301.2 260.8)"/>
<ellipse cx="306.3" cy="263.5" rx="3.79" ry="12.96" fill="url(#g)" opacity="0.216" transform="rotate(-6 306.3 263.5)"/>
<ellipse cx="317.3" cy="269.4" rx="4.28" ry="14.64" fill="url(#g)" opacity="0.155" transform="rotate(-3 317.3 269.4)"/>
<ellipse cx="322.9" cy="264.8" rx="4.23" ry="10.47" fill="url(#g)" opacity="0.077" transform="rotate(5 322.9 264.8)"/>
<ellipse cx="331.0" cy="261.3" rx="3.29" ry="13.32" fill="url(#g)" opacity="0.102" transform="rotate(10 331.0 261.3)"/>
<ellipse cx="343.3" cy="272.4" rx="3.58" ry="10.50" fill="url(#g)" opacity="0.058" transform="rotate(-0 343.3 272.4)"/>
<ellipse cx="350.8" cy="265.9" rx="3.54" ry="12.50" fill="url(#g)" opacity="0.158" transform="rotate(3 350.8 265.9)"/>
<ellipse cx="359.5" cy="270.7" rx="4.08" ry="10.73" fill="url(#g)" opacity="0.200" transform="rotate(-4 359.5 270.7)"/>
<ellipse cx="366.9" cy="265.0" rx="4.17" ry="11.20" fill="url(#g)" opacity="0.087" transform="rotate(-5 366.9 265.0)"/>
<ellipse cx="372.9" cy="271.1" rx="3.97" ry="11.96" fill="url(#g)" opacity="0.115" transform="rotate(10 372.9 271.1)"/>
<ellipse cx="383.5" cy="263.3" rx="4.26" ry="13.92" fill="url(#g)" opacity="0.228" transform="rotate(-8 383.5 263.3)"/>
<ellipse cx="391.8" cy="270.3" rx="4.30" ry="15.49" fill="url(#g)" opacity="0.048" transform="rotate(-4 391.8 270.3)"/>
<ellipse cx="398.2" cy="262.8" rx="4.47" ry="13.50" fill="url(#g)" opacity="0.217" transform="rotate(-3 398.2 262.8)"/>
<ellipse cx="411.2" cy="265.9" rx="3.57" ry="14.67" fill="url(#g)" opacity="0.220" transform="rotate(-8 411.2 265.9)"/>
<ellipse cx="418.1" cy="267.9" rx="3.52" ry="12.21" fill="url(#g)" opacity="0.067" transform="rotate(-6 418.1 267.9)"/>
<ellipse cx="424.5" cy="267.7" rx="4.06" ry="11.22" fill="url(#g)" opacity="0.042" transform="rotate(-3 424.5 267.7)"/>
<ellipse cx="435.6" cy="262.7" rx="3.64" ry="11.22" fill="url(#g)" opacity="0.191" transform="rotate(1 435.6 262.7)"/>
<ellipse cx="440.4" cy="261.7" rx="3.74" ry="13.30" fill="url(#g)" opacity="0.161" transform="rotate(-8 440.4 261.7)"/>
<ellipse cx="449.5" cy="268.8" rx="3.76" ry="11.70" fill="url(#g)" opacity="0.098" transform="rotate(9 449.5 268.8)"/>
<ellipse cx="458.9" cy="267.3" rx="3.70" ry="12.50" fill="url(#g)" opacity="0.204" transform="rotate(10 458.9 267.3)"/>
<ellipse cx="467.7" cy="262.9" rx="4.16" ry="11.22" fill="url(#g)" opacity="0.041" transform="rotate(8 467.7 262.9)"/>
<ellipse cx="476.5" cy="270.3" rx="3.76" ry="15.30" fill="url(#g)" opacity="0.128" transform="rotate(-7 476.5 270.3)"/>
<ellipse cx="482.6" cy="267.1" rx="4.05" ry="15.46" fill="url(#g)" opacity="0.057" transform="rotate(2 482.6 267.1)"/>
<ellipse cx="493.2" cy="266.6" rx="3.43" ry="11.70" fill="url(#g)" opacity="0.139" transform="rotate(9 493.2 266.6)"/>
<ellipse cx="500.2" cy="266.4" rx="4.26" ry="15.80" fill="url(#g)" opacity="0.077" transform="rotate(-7 500.2 266.4)"/>
<ellipse cx="513.7" cy="272.2" rx="3.85" ry="10.32" fill="url(#g)" opacity="0.216" transform="rotate(-2 513.7 272.2)"/>
<ellipse cx="521.9" cy="267.9" rx="4.28" ry="10.96" fill="url(#g)" opacity="0.189" transform="rotate(-6 521.9 267.9)"/>
<ellipse cx="527.4" cy="270.7" rx="4.29" ry="11.10" fill="url(#g)" opacity="0.081" transform="rotate(-2 527.4 270.7)"/>
<ellipse cx="536.6" cy="265.1" rx="3.40" ry="11.48" fill="url(#g)" opacity="0.178" transform="rotate(8 536.6 265.1)"/>
<ellipse cx="542.2" cy="267.2" rx="4.20" ry="10.23" fill="url(#g)" opacity="0.199" transform="rotate(-8 542.2 267.2)"/>
<ellipse cx="554.1" cy="267.1" rx="4.03" ry="11.84" fill="url(#g)" opacity="0.120" transform="rotate(2 554.1 267.1)"/>
<ellipse cx="561.6" cy="268.4" rx="3.81" ry="12.63" fill="url(#g)" opacity="0.044" transform="rotate(2 561.6 268.4)"/>
<ellipse cx="570.4" cy="263.3" rx="4.20" ry="14.68" fill="url(#g)" opacity="0.127" transform="rotate(-6 570.4 263.3)"/>
<ellipse cx="226.1" cy="276.8" rx="3.41" ry="12.58" fill="url(#g)" opacity="0.057" transform="rotate(-1 226.1 276.8)"/>
<ellipse cx="234.8" cy="276.0" rx="4.05" ry="10.49" fill="url(#g)" opacity="0.179" transform="rotate(6 234.8 276.0)"/>
<ellipse cx="243.3" cy="276.2" rx="3.88" ry="12.27" fill="url(#g)" opacity="0.221" transform="rotate(-7 243.3 276.2)"/>
<ellipse cx="253.9" cy="287.5" rx="4.17" ry="14.89" fill="url(#g)" opacity="0.077" transform="rotate(10 253.9 287.5)"/>
<ellipse cx="260.2" cy="287.0" rx="4.40" ry="10.99" fill="url(#g)" opacity="0.190" transform="rotate(9 260.2 287.0)"/>
<ellipse cx="266.1" cy="279.7" rx="4.20" ry="10.95" fill="url(#g)" opacity="0.210" transform="rotate(-5 266.1 279.7)"/>
<ellipse cx="279.1" cy="277.2" rx="3.88" ry="15.52" fill="url(#g)" opacity="0.080" transform="rotate(-5 279.1 277.2)"/>
<ellipse cx="285.8" cy="279.3" rx="3.30" ry="11.09" fill="url(#g)" opacity="0.071" transform="rotate(9 285.8 279.3)"/>
<ellipse cx="295.3" cy="286.2" rx="3.46" ry="14.71" fill="url(#g)" opacity="0.062" transform="rotate(1 295.3 286.2)"/>
<ellipse cx="303.6" cy="279.8" rx="4.34" ry="13.33" fill="url(#g)" opacity="0.150" transform="rotate(8 303.6 279.8)"/>
<ellipse cx="308.9" cy="287.4" rx="4.04" ry="12.37" fill="url(#g)" opacity="0.192" transform="rotate(-5 308.9 287.4)"/>
<ellipse cx="322.7" cy="282.4" rx="3.70" ry="14.59" fill="url(#g)" opacity="0.124" transform="rotate(-6 322.7 282.4)"/>
<ellipse cx="329.7" cy="276.1" rx="4.27" ry="11.52" fill="url(#g)" opacity="0.161" transform="rotate(10 329.7 276.1)"/>
<ellipse cx="337.3" cy="283.5" rx="3.64" ry="10.01" fill="url(#g)" opacity="0.046" transform="rotate(-7 337.3 283.5)"/>
<ellipse cx="345.9" cy="280.7" rx="3.89" ry="15.37" fill="url(#g)" opacity="0.065" transform="rotate(-5 345.9 280.7)"/>
<ellipse cx="354.7" cy="275.8" rx="3.25" ry="12.13" fill="url(#g)" opacity="0.060" transform="rotate(-3 354.7 275.8)"/>
<ellipse cx="360.6" cy="282.5" rx="3.99" ry="11.23" fill="url(#g)" opacity="0.159" transform="rotate(-1 360.6 282.5)"/>
<ellipse cx="368.6" cy="286.7" rx="3.55" ry="10.90" fill="url(#g)" opacity="0.058" transform="rotate(3 368.6 286.7)"/>
<ellipse cx="381.5" cy="284.9" rx="3.75" ry="11.59" fill="url(#g)" opacity="0.042" transform="rotate(3 381.5 284.9)"/>
<ellipse cx="388.1" cy="279.7" rx="4.06" ry="12.66" fill="url(#g)" opacity="0.218" transform="rotate(5 388.1 279.7)"/>
<ellipse cx="394.7" cy="286.3" rx="3.31" ry="13.19" fill="url(#g)" opacity="0.117" transform="rotate(-5 394.7 286.3)"/>
<ellipse cx="402.1" cy="284.8" rx="3.27" ry="13.31" fill="url(#g)" opacity="0.219" transform="rotate(-7 402.1 284.8)"/>
<ellipse cx="411.4" cy="282.8" rx="3.88" ry="13.85" fill="url(#g)" opacity="0.195" transform="rotate(-7 411.4 282.8)"/>
<ellipse cx="420.6" cy="279.1" rx="3.31" ry="15.34" fill="url(#g)" opacity="0.189" transform="rotate(4 420.6 279.1)"/>
<ellipse cx="427.3" cy="285.6" rx="4.18" ry="12.79" fill="url(#g)" opacity="0.181" transform="rotate(-1 427.3 285.6)"/>
<ellipse cx="437.1" cy="276.8" rx="3.54" ry="10.23" fill="url(#g)" opacity="0.104" transform="rotate(5 437.1 276.8)"/>
<ellipse cx="448.4" cy="285.6" rx="4.14" ry="11.60" fill="url(#g)" opacity="0.145" transform="rotate(-1 448.4 285.6)"/>
<ellipse cx="457.5" cy="281.8" rx="3.58" ry="13.85" fill="url(#g)" opacity="0.223" transform="rotate(-6 457.5 281.8)"/>
<ellipse cx="466.5" cy="275.7" rx="3.58" ry="11.42" fill="url(#g)" opacity="0.181" transform="rotate(9 466.5 275.7)"/>
<ellipse cx="474.2" cy="279.4" rx="4.35" ry="11.97" fill="url(#g)" opacity="0.085" transform="rotate(8 474.2 279.4)"/>
<ellipse cx="482.0" cy="283.8" rx="4.08" ry="15.87" fill="url(#g)" opacity="0.129" transform="rotate(7 482.0 283.8)"/>
<ellipse cx="490.9" cy="285.8" rx="3.80" ry="14.35" fill="url(#g)" opacity="0.148" transform="rotate(-4 490.9 285.8)"/>
<ellipse cx="496.5" cy="283.0" rx="3.35" ry="15.46" fill="url(#g)" opacity="0.067" transform="rotate(-9 496.5 283.0)"/>
<ellipse cx="504.4" cy="286.6" rx="3.68" ry="10.85" fill="url(#g)" opacity="0.045" transform="rotate(-9 504.4 286.6)"/>
<ellipse cx="516.4" cy="283.1" rx="4.12" ry="14.42" fill="url(#g)" opacity="0.052" transform="rotate(2 516.4 283.1)"/>
<ellipse cx="522.9" cy="285.3" rx="4.27" ry="15.35" fill="url(#g)" opacity="0.053" transform="rotate(7 522.9 285.3)"/>
<ellipse cx="534.7" cy="286.8" rx="3.38" ry="11.23" fill="url(#g)" opacity="0.061" transform="rotate(-9 534.7 286.8)"/>
<ellipse cx="542.8" cy="285.2" rx="4.04" ry="14.95" fill="url(#g)" opacity="0.160" transform="rotate(-4 542.8 285.2)"/>
<ellipse cx="546.8" cy="276.7" rx="4.20" ry="11.23" fill="url(#g)" opacity="0.101" transform="rotate(-2 546.8 276.7)"/>
<ellipse cx="554.9" cy="278.6" rx="3.60" ry="14.29" fill="url(#g)" opacity="0.110" transform="rotate(-4 554.9 278.6)"/>
<ellipse cx="569.0" cy="281.5" rx="4.31" ry="13.71" fill="url(#g)" opacity="0.046" transform="rotate(-2 569.0 281.5)"/>
<ellipse cx="230.1" cy="299.8" rx="3.68" ry="14.23" fill="url(#g)" opacity="0.100" transform="rotate(-6 230.1 299.8)"/>
<ellipse cx="241.2" cy="291.6" rx="4.27" ry="11.02" fill="url(#g)" opacity="0.040" transform="rotate(-6 241.2 291.6)"/>
<ellipse cx="249.1" cy="302.2" rx="3.26" ry="12.94" fill="url(#g)" opacity="0.093" transform="rotate(6 249.1 302.2)"/>
<ellipse cx="254.1" cy="296.4" rx="3.68" ry="14.99" fill="url(#g)" opacity="0.063" transform="rotate(9 254.1 296.4)"/>
<ellipse cx="263.2" cy="293.1" rx="4.12" ry="12.99" fill="url(#g)" opacity="0.061" transform="rotate(3 263.2 293.1)"/>
<ellipse cx="270.5" cy="300.0" rx="4.12" ry="14.72" fill="url(#g)" opacity="0.112" transform="rotate(-3 270.5 300.0)"/>
<ellipse cx="280.9" cy="295.2" rx="4.36" ry="10.52" fill="url(#g)" opacity="0.146" transform="rotate(-9 280.9 295.2)"/>
<ellipse cx="288.2" cy="293.7" rx="4.38" ry="13.01" fill="url(#g)" opacity="0.112" transform="rotate(8 288.2 293.7)"/>
<ellipse cx="296.9" cy="296.0" rx="3.91" ry="14.53" fill="url(#g)" opacity="0.128" transform="rotate(3 296.9 296.0)"/>
<ellipse cx="306.1" cy="294.4" rx="3.44" ry="15.06" fill="url(#g)" opacity="0.166" transform="rotate(5 306.1 294.4)"/>
<ellipse cx="313.5" cy="295.8" rx="4.22" ry="13.48" fill="url(#g)" opacity="0.045" transform="rotate(-1 313.5 295.8)"/>
<ellipse cx="326.3" cy="293.4" rx="3.49" ry="11.81" fill="url(#g)" opacity="0.174" transform="rotate(7 326.3 293.4)"/>
<ellipse cx="330.4" cy="292.4" rx="3.56" ry="11.96" fill="url(#g)" opacity="0.139" transform="rotate(-7 330.4 292.4)"/>
<ellipse cx="340.0" cy="292.8" rx="4.47" ry="14.37" fill="url(#g)" opacity="0.059" transform="rotate(9 340.0 292.8)"/>
<ellipse cx="347.1" cy="295.1" rx="4.48" ry="14.77" fill="url(#g)" opacity="0.126" transform="rotate(-1 347.1 295.1)"/>
<ellipse cx="356.2" cy="298.2" rx="3.38" ry="11.24" fill="url(#g)" opacity="0.080" transform="rotate(-9 356.2 298.2)"/>
<ellipse cx="365.9" cy="300.0" rx="4.12" ry="13.00" fill="url(#g)" opacity="0.112" transform="rotate(-1 365.9 300.0)"/>
<ellipse cx="372.9" cy="297.7" rx="3.76" ry="14.45" fill="url(#g)" opacity="0.149" transform="rotate(-1 372.9 297.7)"/>
<ellipse cx="383.9" cy="299.5" rx="3.78" ry="11.37" fill="url(#g)" opacity="0.124" transform="rotate(8 383.9 299.5)"/>
<ellipse cx="393.6" cy="298.9" rx="4.32" ry="14.08" fill="url(#g)" opacity="0.113" transform="rotate(-1 393.6 298.9)"/>
<ellipse cx="399.4" cy="298.0" rx="3.37" ry="12.52" fill="url(#g)" opacity="0.132" transform="rotate(4 399.4 298.0)"/>
<ellipse cx="409.8" cy="293.5" rx="3.78" ry="12.73" fill="url(#g)" opacity="0.158" transform="rotate(-2 409.8 293.5)"/>
<ellipse cx="418.6" cy="301.7" rx="3.48" ry="13.93" fill="url(#g)" opacity="0.131" transform="rotate(-2 418.6 301.7)"/>
<ellipse cx="425.9" cy="302.2" rx="3.30" ry="13.26" fill="url(#g)" opacity="0.049" transform="rotate(6 425.9 302.2)"/>
<ellipse cx="437.1" cy="296.7" rx="3.38" ry="13.45" fill="url(#g)" opacity="0.100" transform="rotate(4 437.1 296.7)"/>
<ellipse cx="443.1" cy="298.2" rx="4.29" ry="13.13" fill="url(#g)" opacity="0.083" transform="rotate(9 443.1 298.2)"/>
<ellipse cx="449.8" cy="298.7" rx="3.74" ry="14.58" fill="url(#g)" opacity="0.044" transform="rotate(10 449.8 298.7)"/>
<ellipse cx="459.1" cy="291.2" rx="3.59" ry="12.40" fill="url(#g)" opacity="0.043" transform="rotate(-2 459.1 291.2)"/>
<ellipse cx="468.0" cy="298.9" rx="3.69" ry="11.59" fill="url(#g)" opacity="0.058" transform="rotate(5 468.0 298.9)"/>
<ellipse cx="479.6" cy="296.8" rx="3.52" ry="14.81" fill="url(#g)" opacity="0.080" transform="rotate(-6 479.6 296.8)"/>
<ellipse cx="483.3" cy="299.8" rx="4.26" ry="13.81" fill="url(#g)" opacity="0.090" transform="rotate(1 483.3 299.8)"/>
<ellipse cx="492.4" cy="302.1" rx="3.69" ry="13.83" fill="url(#g)" opacity="0.137" transform="rotate(6 492.4 302.1)"/>
<ellipse cx="502.3" cy="294.0" rx="3.94" ry="10.75" fill="url(#g)" opacity="0.198" transform="rotate(-3 502.3 294.0)"/>
<ellipse cx="513.1" cy="293.7" rx="3.72" ry="11.52" fill="url(#g)" opacity="0.121" transform="rotate(-6 513.1 293.7)"/>
<ellipse cx="516.5" cy="299.2" rx="3.60" ry="11.47" fill="url(#g)" opacity="0.068" transform="rotate(-0 516.5 299.2)"/>
<ellipse cx="527.6" cy="298.1" rx="4.07" ry="12.17" fill="url(#g)" opacity="0.152" transform="rotate(7 527.6 298.1)"/>
<ellipse cx="533.8" cy="300.4" rx="4.38" ry="14.70" fill="url(#g)" opacity="0.047" transform="rotate(7 533.8 300.4)"/>
<ellipse cx="545.8" cy="290.7" rx="3.26" ry="15.71" fill="url(#g)" opacity="0.165" transform="rotate(-5 545.8 290.7)"/>
<ellipse cx="551.1" cy="292.2" rx="3.54" ry="14.66" fill="url(#g)" opacity="0.106" transform="rotate(-7 551.1 292.2)"/>
<ellipse cx="564.4" cy="300.0" rx="3.46" ry="15.35" fill="url(#g)" opacity="0.109" transform="rotate(6 564.4 300.0)"/>
<ellipse cx="571.5" cy="301.2" rx="4.24" ry="15.03" fill="url(#g)" opacity="0.054" transform="rotate(4 571.5 301.2)"/>
<ellipse cx="226.4" cy="314.4" rx="3.80" ry="15.30" fill="url(#g)" opacity="0.102" transform="rotate(-5 226.4 314.4)"/>
<ellipse cx="233.2" cy="307.2" rx="3.87" ry="10.35" fill="url(#g)" opacity="0.090" transform="rotate(-7 233.2 307.2)"/>
<ellipse cx="243.2" cy="311.5" rx="3.92" ry="15.18" fill="url(#g)" opacity="0.029" transform="rotate(7 243.2 311.5)"/>
<ellipse cx="251.6" cy="312.3" rx="4.08" ry="15.04" fill="url(#g)" opacity="0.078" transform="rotate(-2 251.6 312.3)"/>
<ellipse cx="263.0" cy="306.4" rx="4.05" ry="13.82" fill="url(#g)" opacity="0.032" transform="rotate(2 263.0 306.4)"/>
<ellipse cx="269.8" cy="316.7" rx="3.66" ry="15.89" fill="url(#g)" opacity="0.096" transform="rotate(-0 269.8 316.7)"/>
<ellipse cx="279.6" cy="305.9" rx="4.15" ry="13.75" fill="url(#g)" opacity="0.073" transform="rotate(7 279.6 305.9)"/>
<ellipse cx="284.9" cy="311.2" rx="3.91" ry="14.62" fill="url(#g)" opacity="0.056" transform="rotate(-1 284.9 311.2)"/>
<ellipse cx="293.8" cy="312.1" rx="4.28" ry="11.76" fill="url(#g)" opacity="0.138" transform="rotate(-2 293.8 312.1)"/>
<ellipse cx="302.8" cy="308.8" rx="3.88" ry="15.85" fill="url(#g)" opacity="0.115" transform="rotate(6 302.8 308.8)"/>
<ellipse cx="310.2" cy="309.3" rx="3.62" ry="13.52" fill="url(#g)" opacity="0.112" transform="rotate(6 310.2 309.3)"/>
<ellipse cx="317.0" cy="314.2" rx="4.36" ry="13.27" fill="url(#g)" opacity="0.035" transform="rotate(-4 317.0 314.2)"/>
<ellipse cx="325.3" cy="307.8" rx="4.40" ry="13.65" fill="url(#g)" opacity="0.116" transform="rotate(6 325.3 307.8)"/>
<ellipse cx="339.2" cy="312.8" rx="4.02" ry="13.76" fill="url(#g)" opacity="0.121" transform="rotate(2 339.2 312.8)"/>
<ellipse cx="346.3" cy="308.1" rx="4.08" ry="12.75" fill="url(#g)" opacity="0.129" transform="rotate(-8 346.3 308.1)"/>
<ellipse cx="351.8" cy="305.9" rx="4.22" ry="15.48" fill="url(#g)" opacity="0.115" transform="rotate(-3 351.8 305.9)"/>
<ellipse cx="364.2" cy="314.9" rx="3.95" ry="11.55" fill="url(#g)" opacity="0.068" transform="rotate(-2 364.2 314.9)"/>
<ellipse cx="369.7" cy="310.7" rx="4.05" ry="15.60" fill="url(#g)" opacity="0.035" transform="rotate(1 369.7 310.7)"/>
<ellipse cx="376.5" cy="306.9" rx="4.26" ry="13.45" fill="url(#g)" opacity="0.150" transform="rotate(-1 376.5 306.9)"/>
<ellipse cx="384.8" cy="310.1" rx="3.99" ry="15.63" fill="url(#g)" opacity="0.158" transform="rotate(-0 384.8 310.1)"/>
<ellipse cx="395.7" cy="306.7" rx="4.06" ry="11.27" fill="url(#g)" opacity="0.048" transform="rotate(-10 395.7 306.7)"/>
<ellipse cx="401.8" cy="313.7" rx="3.40" ry="15.80" fill="url(#g)" opacity="0.040" transform="rotate(7 401.8 313.7)"/>
<ellipse cx="411.0" cy="305.7" rx="4.15" ry="11.45" fill="url(#g)" opacity="0.126" transform="rotate(-6 411.0 305.7)"/>
<ellipse cx="419.1" cy="314.8" rx="4.14" ry="15.13" fill="url(#g)" opacity="0.125" transform="rotate(-8 419.1 314.8)"/>
<ellipse cx="431.0" cy="314.0" rx="3.83" ry="15.59" fill="url(#g)" opacity="0.062" transform="rotate(9 431.0 314.0)"/>
<ellipse cx="440.1" cy="305.6" rx="3.27" ry="13.90" fill="url(#g)" opacity="0.137" transform="rotate(-8 440.1 305.6)"/>
<ellipse cx="446.1" cy="314.3" rx="3.46" ry="15.17" fill="url(#g)" opacity="0.093" transform="rotate(-9 446.1 314.3)"/>
<ellipse cx="455.0" cy="312.4" rx="3.80" ry="14.06" fill="url(#g)" opacity="0.047" transform="rotate(6 455.0 312.4)"/>
<ellipse cx="463.4" cy="313.2" rx="4.04" ry="12.51" fill="url(#g)" opacity="0.079" transform="rotate(6 463.4 313.2)"/>
<ellipse cx="475.4" cy="314.9" rx="3.96" ry="11.75" fill="url(#g)" opacity="0.036" transform="rotate(9 475.4 314.9)"/>
<ellipse cx="482.5" cy="315.4" rx="3.67" ry="13.63" fill="url(#g)" opacity="0.158" transform="rotate(7 482.5 315.4)"/>
<ellipse cx="490.4" cy="309.2" rx="3.79" ry="15.33" fill="url(#g)" opacity="0.078" transform="rotate(4 490.4 309.2)"/>
<ellipse cx="498.9" cy="316.3" rx="4.26" ry="11.70" fill="url(#g)" opacity="0.028" transform="rotate(-5 498.9 316.3)"/>
<ellipse cx="506.3" cy="312.5" rx="4.27" ry="15.32" fill="url(#g)" opacity="0.034" transform="rotate(7 506.3 312.5)"/>
<ellipse cx="517.1" cy="315.9" rx="3.96" ry="11.64" fill="url(#g)" opacity="0.141" transform="rotate(6 517.1 315.9)"/>
<ellipse cx="524.9" cy="316.5" rx="3.68" ry="10.51" fill="url(#g)" opacity="0.102" transform="rotate(6 524.9 316.5)"/>
<ellipse cx="530.5" cy="314.5" rx="4.41" ry="11.40" fill="url(#g)" opacity="0.109" transform="rotate(4 530.5 314.5)"/>
<ellipse cx="540.5" cy="308.0" rx="3.57" ry="14.51" fill="url(#g)" opacity="0.133" transform="rotate(-1 540.5 308.0)"/>
<ellipse cx="546.8" cy="315.2" rx="4.22" ry="11.40" fill="url(#g)" opacity="0.105" transform="rotate(8 546.8 315.2)"/>
<ellipse cx="560.1" cy="311.8" rx="3.85" ry="13.54" fill="url(#g)" opacity="0.053" transform="rotate(-6 560.1 311.8)"/>
<ellipse cx="564.3" cy="313.9" rx="3.70" ry="13.39" fill="url(#g)" opacity="0.082" transform="rotate(0 564.3 313.9)"/>
<ellipse cx="273.0" cy="301.9" rx="8.99" ry="19.24" fill="url(#g)" opacity="0.037" transform="rotate(3 273.0 301.9)"/>
<ellipse cx="491.3" cy="311.7" rx="7.39" ry="18.83" fill="url(#g)" opacity="0.066" transform="rotate(-10 491.3 311.7)"/>
<ellipse cx="233.5" cy="385.2" rx="8.46" ry="20.81" fill="url(#g)" opacity="0.070" transform="rotate(-5 233.5 385.2)"/>
<ellipse cx="488.5" cy="335.5" rx="8.79" ry="24.74" fill="url(#g)" opacity="0.087" transform="rotate(9 488.5 335.5)"/>
<ellipse cx="308.9" cy="301.3" rx="5.80" ry="16.53" fill="url(#g)" opacity="0.036" transform="rotate(-9 308.9 301.3)"/>
<ellipse cx="412.6" cy="374.6" rx="6.83" ry="27.26" fill="url(#g)" opacity="0.094" transform="rotate(-9 412.6 374.6)"/>
<ellipse cx="426.5" cy="333.0" rx="5.48" ry="27.43" fill="url(#g)" opacity="0.048" transform="rotate(1 426.5 333.0)"/>
<ellipse cx="441.1" cy="382.2" rx="7.68" ry="19.50" fill="url(#g)" opacity="0.061" transform="rotate(-7 441.1 382.2)"/>
<ellipse cx="552.3" cy="385.3" rx="5.89" ry="14.54" fill="url(#g)" opacity="0.048" transform="rotate(-3 552.3 385.3)"/>
<ellipse cx="530.7" cy="377.6" rx="8.35" ry="14.66" fill="url(#g)" opacity="0.085" transform="rotate(4 530.7 377.6)"/>
<ellipse cx="443.2" cy="384.7" rx="5.22" ry="16.03" fill="url(#g)" opacity="0.083" transform="rotate(9 443.2 384.7)"/>
<ellipse cx="453.5" cy="324.3" rx="7.37" ry="24.61" fill="url(#g)" opacity="0.037" transform="rotate(-4 453.5 324.3)"/>
<ellipse cx="309.9" cy="308.9" rx="6.93" ry="16.36" fill="url(#g)" opacity="0.047" transform="rotate(-7 309.9 308.9)"/>
<ellipse cx="453.8" cy="299.1" rx="7.87" ry="16.73" fill="url(#g)" opacity="0.033" transform="rotate(9 453.8 299.1)"/>
<ellipse cx="297.4" cy="380.2" rx="8.47" ry="26.44" fill="url(#g)" opacity="0.040" transform="rotate(-1 297.4 380.2)"/>
<ellipse cx="255.2" cy="379.7" rx="8.37" ry="22.80" fill="url(#g)" opacity="0.062" transform="rotate(-3 255.2 379.7)"/>
<ellipse cx="503.5" cy="340.0" rx="7.51" ry="16.00" fill="url(#g)" opacity="0.046" transform="rotate(-9 503.5 340.0)"/>
<ellipse cx="466.1" cy="346.7" rx="5.58" ry="26.19" fill="url(#g)" opacity="0.049" transform="rotate(-2 466.1 346.7)"/>
<ellipse cx="275.2" cy="321.9" rx="8.36" ry="18.68" fill="url(#g)" opacity="0.042" transform="rotate(-0 275.2 321.9)"/>
<ellipse cx="330.8" cy="377.5" rx="5.46" ry="27.70" fill="url(#g)" opacity="0.034" transform="rotate(8 330.8 377.5)"/>
<ellipse cx="450.6" cy="316.6" rx="6.91" ry="18.01" fill="url(#g)" opacity="0.048" transform="rotate(-6 450.6 316.6)"/>
<ellipse cx="346.6" cy="385.2" rx="8.99" ry="26.95" fill="url(#g)" opacity="0.037" transform="rotate(-4 346.6 385.2)"/>
<ellipse cx="528.5" cy="303.1" rx="7.91" ry="18.11" fill="url(#g)" opacity="0.099" transform="rotate(-10 528.5 303.1)"/>
<ellipse cx="498.0" cy="328.0" rx="5.56" ry="14.03" fill="url(#g)" opacity="0.088" transform="rotate(1 498.0 328.0)"/>
<ellipse cx="285.6" cy="336.3" rx="8.65" ry="17.06" fill="url(#g)" opacity="0.070" transform="rotate(-7 285.6 336.3)"/>
<ellipse cx="283.6" cy="365.8" rx="7.85" ry="16.75" fill="url(#g)" opacity="0.036" transform="rotate(-8 283.6 365.8)"/>
<ellipse cx="430.1" cy="341.6" rx="6.10" ry="16.88" fill="url(#g)" opacity="0.073" transform="rotate(4 430.1 341.6)"/>
<ellipse cx="499.6" cy="349.3" rx="5.81" ry="14.92" fill="url(#g)" opacity="0.081" transform="rotate(-2 499.6 349.3)"/>
<ellipse cx="468.8" cy="302.9" rx="8.24" ry="18.69" fill="url(#g)" opacity="0.089" transform="rotate(7 468.8 302.9)"/>
<ellipse cx="390.6" cy="299.4" rx="8.64" ry="20.67" fill="url(#g)" opacity="0.091" transform="rotate(-5 390.6 299.4)"/>
<ellipse cx="285.6" cy="371.2" rx="6.47" ry="16.29" fill="url(#g)" opacity="0.056" transform="rotate(2 285.6 371.2)"/>
<ellipse cx="223.6" cy="343.7" rx="6.78" ry="21.22" fill="url(#g)" opacity="0.038" transform="rotate(4 223.6 343.7)"/>
<ellipse cx="501.3" cy="374.2" rx="6.28" ry="23.96" fill="url(#g)" opacity="0.057" transform="rotate(5 501.3 374.2)"/>
<ellipse cx="242.9" cy="374.8" rx="8.82" ry="20.93" fill="url(#g)" opacity="0.066" transform="rotate(1 242.9 374.8)"/>
<ellipse cx="405.8" cy="299.8" rx="8.87" ry="17.13" fill="url(#g)" opacity="0.043" transform="rotate(-8 405.8 299.8)"/>
<ellipse cx="307.7" cy="369.9" rx="5.12" ry="15.35" fill="url(#g)" opacity="0.079" transform="rotate(-6 307.7 369.9)"/>
<ellipse cx="228.0" cy="350.7" rx="7.31" ry="21.32" fill="url(#g)" opacity="0.079" transform="rotate(-8 228.0 350.7)"/>
<ellipse cx="519.4" cy="361.1" rx="5.18" ry="15.72" fill="url(#g)" opacity="0.065" transform="rotate(0 519.4 361.1)"/>
<ellipse cx="317.6" cy="308.7" rx="6.62" ry="15.92" fill="url(#g)" opacity="0.071" transform="rotate(7 317.6 308.7)"/>
<ellipse cx="272.3" cy="348.4" rx="7.99" ry="16.30" fill="url(#g)" opacity="0.088" transform="rotate(9 272.3 348.4)"/>
<ellipse cx="355.0" cy="335.0" rx="8.36" ry="21.36" fill="url(#g)" opacity="0.058" transform="rotate(9 355.0 335.0)"/>
<ellipse cx="487.7" cy="327.8" rx="5.96" ry="18.69" fill="url(#g)" opacity="0.060" transform="rotate(10 487.7 327.8)"/>
<ellipse cx="497.1" cy="378.3" rx="8.26" ry="25.87" fill="url(#g)" opacity="0.034" transform="rotate(0 497.1 378.3)"/>
<ellipse cx="549.6" cy="380.2" rx="6.00" ry="19.91" fill="url(#g)" opacity="0.074" transform="rotate(-3 549.6 380.2)"/>
<ellipse cx="403.5" cy="304.1" rx="6.73" ry="21.07" fill="url(#g)" opacity="0.031" transform="rotate(-7 403.5 304.1)"/>
<ellipse cx="553.6" cy="366.3" rx="8.75" ry="22.86" fill="url(#g)" opacity="0.087" transform="rotate(8 553.6 366.3)"/>
<ellipse cx="524.5" cy="301.0" rx="7.57" ry="17.72" fill="url(#g)" opacity="0.077" transform="rotate(-5 524.5 301.0)"/>
<ellipse cx="407.5" cy="379.3" rx="7.49" ry="17.51" fill="url(#g)" opacity="0.066" transform="rotate(-1 407.5 379.3)"/>
<ellipse cx="547.2" cy="323.3" rx="6.22" ry="23.07" fill="url(#g)" opacity="0.038" transform="rotate(2 547.2 323.3)"/>
<ellipse cx="549.0" cy="343.2" rx="6.07" ry="20.53" fill="url(#g)" opacity="0.067" transform="rotate(-7 549.0 343.2)"/>
<ellipse cx="264.4" cy="309.6" rx="6.17" ry="19.69" fill="url(#g)" opacity="0.050" transform="rotate(-5 264.4 309.6)"/>
<ellipse cx="252.0" cy="346.1" rx="8.36" ry="22.54" fill="url(#g)" opacity="0.070" transform="rotate(3 252.0 346.1)"/>
<ellipse cx="290.8" cy="360.5" rx="6.84" ry="21.67" fill="url(#g)" opacity="0.073" transform="rotate(-1 290.8 360.5)"/>
<ellipse cx="328.2" cy="319.3" rx="5.89" ry="21.17" fill="url(#g)" opacity="0.057" transform="rotate(2 328.2 319.3)"/>
<ellipse cx="226.1" cy="329.0" rx="8.45" ry="17.34" fill="url(#g)" opacity="0.069" transform="rotate(-0 226.1 329.0)"/>
<ellipse cx="319.4" cy="384.9" rx="6.18" ry="24.81" fill="url(#g)" opacity="0.041" transform="rotate(-9 319.4 384.9)"/>
<ellipse cx="520.0" cy="336.7" rx="5.25" ry="19.43" fill="url(#g)" opacity="0.061" transform="rotate(5 520.0 336.7)"/>
<ellipse cx="259.4" cy="317.8" rx="8.84" ry="24.34" fill="url(#g)" opacity="0.041" transform="rotate(-3 259.4 317.8)"/>
<ellipse cx="342.5" cy="357.4" rx="7.47" ry="25.90" fill="url(#g)" opacity="0.087" transform="rotate(0 342.5 357.4)"/>
<ellipse cx="474.7" cy="363.4" rx="8.04" ry="20.65" fill="url(#g)" opacity="0.085" transform="rotate(4 474.7 363.4)"/>
<ellipse cx="534.8" cy="309.2" rx="8.48" ry="14.06" fill="url(#g)" opacity="0.084" transform="rotate(2 534.8 309.2)"/>
<ellipse cx="392.3" cy="382.7" rx="7.29" ry="19.85" fill="url(#g)" opacity="0.085" transform="rotate(7 392.3 382.7)"/>
<ellipse cx="429.7" cy="331.4" rx="6.81" ry="20.41" fill="url(#g)" opacity="0.081" transform="rotate(-4 429.7 331.4)"/>
<ellipse cx="355.6" cy="346.9" rx="6.54" ry="18.51" fill="url(#g)" opacity="0.085" transform="rotate(7 355.6 346.9)"/>
<ellipse cx="392.8" cy="337.1" rx="5.74" ry="18.26" fill="url(#g)" opacity="0.040" transform="rotate(2 392.8 337.1)"/>
<ellipse cx="420.9" cy="305.7" rx="8.68" ry="18.53" fill="url(#g)" opacity="0.089" transform="rotate(7 420.9 305.7)"/>
<ellipse cx="549.9" cy="316.0" rx="6.71" ry="26.75" fill="url(#g)" opacity="0.031" transform="rotate(-9 549.9 316.0)"/>
<ellipse cx="415.2" cy="341.8" rx="8.68" ry="24.83" fill="url(#g)" opacity="0.068" transform="rotate(10 415.2 341.8)"/>
<ellipse cx="399.0" cy="343.5" rx="7.74" ry="19.45" fill="url(#g)" opacity="0.055" transform="rotate(2 399.0 343.5)"/>
<ellipse cx="342.1" cy="381.4" rx="7.71" ry="21.35" fill="url(#g)" opacity="0.037" transform="rotate(-3 342.1 381.4)"/>
<ellipse cx="370.0" cy="365.0" rx="25.00" ry="17.00" fill="url(#k)" opacity="0.500"/>
<ellipse cx="270.0" cy="350.0" rx="12.00" ry="20.00" fill="url(#k)" opacity="0.300"/>
<ellipse cx="437.0" cy="352.0" rx="5.00" ry="13.00" fill="url(#k)" opacity="0.300"/>
<ellipse cx="525.0" cy="365.0" rx="5.00" ry="13.00" fill="url(#k)" opacity="0.350"/>
<ellipse cx="244.0" cy="300.0" rx="15.00" ry="15.00" fill="url(#k)" opacity="0.250"/>
<ellipse cx="365.0" cy="306.0" rx="55.00" ry="22.00" fill="url(#g)" opacity="0.091"/>
<ellipse cx="330.0" cy="298.0" rx="27.50" ry="18.70" fill="url(#g)" opacity="0.091"/>
<ellipse cx="400.0" cy="330.0" rx="33.00" ry="27.50" fill="url(#g)" opacity="0.078"/>
<ellipse cx="470.0" cy="340.0" rx="66.00" ry="33.00" fill="url(#g)" opacity="0.065"/>
<ellipse cx="250.0" cy="350.0" rx="33.00" ry="27.50" fill="url(#g)" opacity="0.065"/>
<ellipse cx="225.2" cy="226.3" rx="2.75" ry="7.70" fill="url(#g)" opacity="0.182"/>
<ellipse cx="237.6" cy="222.0" rx="2.75" ry="6.60" fill="url(#g)" opacity="0.182"/>
<ellipse cx="249.0" cy="224.0" rx="2.20" ry="6.60" fill="url(#g)" opacity="0.130"/>
<ellipse cx="281.0" cy="224.0" rx="2.75" ry="7.70" fill="url(#g)" opacity="0.182"/>
<ellipse cx="281.0" cy="238.7" rx="2.75" ry="6.60" fill="url(#g)" opacity="0.234"/>
<ellipse cx="299.5" cy="247.0" rx="3.30" ry="6.60" fill="url(#g)" opacity="0.234"/>
<ellipse cx="308.8" cy="226.0" rx="2.20" ry="6.60" fill="url(#g)" opacity="0.130"/>
<ellipse cx="331.5" cy="228.4" rx="2.75" ry="6.60" fill="url(#g)" opacity="0.208"/>
<ellipse cx="335.7" cy="242.8" rx="2.75" ry="6.60" fill="url(#g)" opacity="0.208"/>
<ellipse cx="322.2" cy="257.3" rx="2.75" ry="7.70" fill="url(#g)" opacity="0.208" transform="rotate(15 322.2 257.3)"/>
<ellipse cx="308.8" cy="269.7" rx="4.40" ry="7.70" fill="url(#g)" opacity="0.260"/>
<ellipse cx="251.0" cy="365.0" rx="6.05" ry="11.00" fill="url(#g)" opacity="0.260"/>
<ellipse cx="228.3" cy="376.4" rx="4.40" ry="7.70" fill="url(#g)" opacity="0.234"/>
<ellipse cx="225.2" cy="326.8" rx="4.95" ry="9.90" fill="url(#g)" opacity="0.156"/>
<ellipse cx="240.7" cy="344.4" rx="4.40" ry="8.80" fill="url(#g)" opacity="0.130"/>
<ellipse cx="267.5" cy="310.3" rx="4.95" ry="11.00" fill="url(#g)" opacity="0.156"/>
<ellipse cx="291.3" cy="338.2" rx="4.40" ry="11.00" fill="url(#g)" opacity="0.169"/>
<ellipse cx="293.3" cy="306.2" rx="4.40" ry="9.90" fill="url(#g)" opacity="0.221"/>
<ellipse cx="282.0" cy="368.0" rx="4.40" ry="7.70" fill="url(#g)" opacity="0.130"/>
<ellipse cx="362.0" cy="312.0" rx="8.80" ry="13.20" fill="url(#g)" opacity="0.260"/>
<ellipse cx="327.0" cy="308.0" rx="7.70" ry="11.00" fill="url(#g)" opacity="0.234"/>
<ellipse cx="394.0" cy="312.0" rx="6.60" ry="12.10" fill="url(#g)" opacity="0.260"/>
<ellipse cx="414.6" cy="331.0" rx="4.95" ry="11.00" fill="url(#g)" opacity="0.234"/>
<ellipse cx="407.4" cy="353.7" rx="4.95" ry="7.70" fill="url(#g)" opacity="0.208"/>
<ellipse cx="401.2" cy="370.0" rx="4.95" ry="7.70" fill="url(#g)" opacity="0.208"/>
<ellipse cx="320.7" cy="372.3" rx="5.50" ry="7.70" fill="url(#g)" opacity="0.208"/>
<ellipse cx="378.5" cy="368.0" rx="4.40" ry="7.70" fill="url(#g)" opacity="0.130"/>
<ellipse cx="345.0" cy="325.0" rx="11.00" ry="16.50" fill="url(#g)" opacity="0.182"/>
<ellipse cx="380.0" cy="318.0" rx="8.80" ry="16.50" fill="url(#g)" opacity="0.182"/>
<ellipse cx="408.3" cy="306.2" rx="4.95" ry="11.00" fill="url(#g)" opacity="0.234"/>
<ellipse cx="435.0" cy="304.0" rx="4.95" ry="8.80" fill="url(#g)" opacity="0.234"/>
<ellipse cx="414.5" cy="329.0" rx="4.40" ry="9.90" fill="url(#g)" opacity="0.208"/>
<ellipse cx="427.0" cy="368.0" rx="4.95" ry="9.90" fill="url(#g)" opacity="0.234"/>
<ellipse cx="453.7" cy="333.0" rx="4.40" ry="8.80" fill="url(#g)" opacity="0.208"/>
<ellipse cx="482.6" cy="341.3" rx="3.85" ry="15.40" fill="url(#g)" opacity="0.234"/>
<ellipse cx="491.0" cy="318.6" rx="4.40" ry="13.20" fill="url(#g)" opacity="0.234"/>
<ellipse cx="503.0" cy="306.0" rx="4.40" ry="11.00" fill="url(#g)" opacity="0.234"/>
<ellipse cx="503.0" cy="335.0" rx="3.85" ry="8.80" fill="url(#g)" opacity="0.208"/>
<ellipse cx="486.7" cy="374.0" rx="4.40" ry="6.60" fill="url(#g)" opacity="0.208"/>
<ellipse cx="455.8" cy="372.0" rx="4.40" ry="6.60" fill="url(#g)" opacity="0.208"/>
<ellipse cx="489.0" cy="320.7" rx="4.95" ry="14.30" fill="url(#g)" opacity="0.130"/>
<ellipse cx="482.7" cy="347.5" rx="3.85" ry="17.60" fill="url(#g)" opacity="0.156"/>
<ellipse cx="494.0" cy="353.7" rx="3.85" ry="9.90" fill="url(#g)" opacity="0.208"/>
<ellipse cx="540.5" cy="331.0" rx="3.85" ry="8.80" fill="url(#g)" opacity="0.221"/>
<ellipse cx="549.8" cy="339.2" rx="3.85" ry="8.80" fill="url(#g)" opacity="0.221"/>
<ellipse cx="559.0" cy="304.0" rx="3.85" ry="7.70" fill="url(#g)" opacity="0.208"/>
<ellipse cx="472.4" cy="304.0" rx="3.85" ry="7.70" fill="url(#g)" opacity="0.208"/>
<ellipse cx="530.0" cy="340.0" rx="3.85" ry="9.90" fill="url(#g)" opacity="0.130"/>
<ellipse cx="440.0" cy="330.0" rx="5.50" ry="16.50" fill="url(#g)" opacity="0.130"/>
<ellipse cx="238.7" cy="236.5" rx="4.30" ry="9.70" fill="url(#g)" opacity="0.63"/>
<ellipse cx="238.3" cy="250.5" rx="4.01" ry="14.24" fill="url(#g)" opacity="0.58"/>
<ellipse cx="269.9" cy="229.5" rx="2.62" ry="4.57" fill="url(#g)" opacity="0.304"/>
<ellipse cx="269.9" cy="243.1" rx="3.25" ry="7.10" fill="url(#g)" opacity="0.331"/>
<ellipse cx="322.3" cy="224.9" rx="3.25" ry="8.37" fill="url(#g)" opacity="0.331"/>
<ellipse cx="322.3" cy="240.4" rx="5.12" ry="11.42" fill="url(#g)" opacity="0.386"/>
<ellipse cx="299.2" cy="268.9" rx="3.88" ry="8.37" fill="url(#g)" opacity="0.35"/>
<ellipse cx="300.2" cy="281.4" rx="3.25" ry="8.37" fill="url(#g)" opacity="0.331" transform="rotate(20 300.2 281.4)"/>
<ellipse cx="307.3" cy="286.5" rx="4.50" ry="9.64" fill="url(#g)" opacity="0.35"/>
<ellipse cx="314.5" cy="294.6" rx="8.02" ry="14.24" fill="url(#g)" opacity="0.58"/>
<ellipse cx="339.5" cy="292.1" rx="5.99" ry="12.17" fill="url(#g)" opacity="0.414"/>
<ellipse cx="345.3" cy="252.5" rx="4.50" ry="7.10" fill="url(#g)" opacity="0.35"/>
<ellipse cx="353.2" cy="256.1" rx="3.88" ry="7.10" fill="url(#g)" opacity="0.35"/>
<ellipse cx="345.9" cy="268.0" rx="3.25" ry="8.37" fill="url(#g)" opacity="0.331"/>
<ellipse cx="346.9" cy="285.5" rx="3.88" ry="10.15" fill="url(#g)" opacity="0.35"/>
<ellipse cx="369.6" cy="268.9" rx="4.50" ry="12.69" fill="url(#g)" opacity="0.35" transform="rotate(25 369.6 268.9)"/>
<ellipse cx="363.3" cy="291.5" rx="2.62" ry="5.84" fill="url(#g)" opacity="0.304"/>
<ellipse cx="382" cy="250.1" rx="3.88" ry="8.37" fill="url(#g)" opacity="0.35"/>
<ellipse cx="382" cy="265.1" rx="2.62" ry="5.84" fill="url(#g)" opacity="0.313"/>
<ellipse cx="390.8" cy="253.8" rx="2.00" ry="3.30" fill="url(#g)" opacity="0.304"/>
<ellipse cx="390.8" cy="285.5" rx="4.50" ry="10.15" fill="url(#g)" opacity="0.35" transform="rotate(15 390.8 285.5)"/>
<ellipse cx="396.2" cy="288.0" rx="3.25" ry="7.10" fill="url(#g)" opacity="0.331"/>
<ellipse cx="385.7" cy="295.4" rx="2.62" ry="4.57" fill="url(#g)" opacity="0.304"/>
<ellipse cx="398.7" cy="227.4" rx="5.12" ry="10.15" fill="url(#g)" opacity="0.368"/>
<ellipse cx="398.5" cy="242.5" rx="5.00" ry="8.37" fill="url(#g)" opacity="0.35"/>
<ellipse cx="406" cy="255.1" rx="5.40" ry="9.73" fill="url(#g)" opacity="0.414"/>
<ellipse cx="405" cy="268.9" rx="5.01" ry="9.15" fill="url(#g)" opacity="0.58"/>
<ellipse cx="403" cy="284.5" rx="4.26" ry="8.65" fill="url(#g)" opacity="0.8" transform="rotate(25 403 284.5)"/>
<ellipse cx="413.9" cy="235.9" rx="3.88" ry="8.37" fill="url(#g)" opacity="0.35"/>
<ellipse cx="420.2" cy="234.0" rx="5.12" ry="11.40" fill="url(#g)" opacity="0.396"/>
<ellipse cx="420.2" cy="250.9" rx="4.50" ry="10.15" fill="url(#g)" opacity="0.368"/>
<ellipse cx="416.8" cy="270.5" rx="3.25" ry="9.64" fill="url(#g)" opacity="0.331"/>
<ellipse cx="418.4" cy="283.5" rx="2.62" ry="10.15" fill="url(#g)" opacity="0.331"/>
<ellipse cx="440.1" cy="222.9" rx="5.99" ry="9.25" fill="url(#g)" opacity="0.414"/>
<ellipse cx="450.3" cy="218.9" rx="4.50" ry="3.93" fill="url(#g)" opacity="0.35"/>
<ellipse cx="449.8" cy="230.9" rx="2.62" ry="5.84" fill="url(#g)" opacity="0.304"/>
<ellipse cx="440.9" cy="235.5" rx="3.25" ry="5.84" fill="url(#g)" opacity="0.304"/>
<ellipse cx="442" cy="249.5" rx="2.00" ry="5.84" fill="url(#g)" opacity="0.304"/>
<ellipse cx="443.8" cy="259.1" rx="3.25" ry="7.10" fill="url(#g)" opacity="0.331"/>
<ellipse cx="463.5" cy="224.5" rx="4.50" ry="8.37" fill="url(#g)" opacity="0.35"/>
<ellipse cx="469.5" cy="239.5" rx="5.00" ry="10.15" fill="url(#g)" opacity="0.386"/>
<ellipse cx="469.9" cy="253.8" rx="3.84" ry="7.79" fill="url(#g)" opacity="0.8"/>
<ellipse cx="469.5" cy="268.9" rx="5.01" ry="8.14" fill="url(#g)" opacity="0.58"/>
<ellipse cx="462" cy="274.8" rx="4.50" ry="8.37" fill="url(#g)" opacity="0.35"/>
<ellipse cx="461" cy="286.5" rx="4.80" ry="12.17" fill="url(#g)" opacity="0.414"/>
<ellipse cx="468.3" cy="281.8" rx="3.25" ry="3.30" fill="url(#g)" opacity="0.304"/>
<ellipse cx="488.6" cy="245.5" rx="5.00" ry="10.15" fill="url(#g)" opacity="0.386"/>
<ellipse cx="518.1" cy="219.8" rx="3.25" ry="4.57" fill="url(#g)" opacity="0.331"/>
<ellipse cx="523.4" cy="224.5" rx="2.00" ry="3.30" fill="url(#g)" opacity="0.304"/>
<ellipse cx="523" cy="239.5" rx="2.62" ry="5.84" fill="url(#g)" opacity="0.304"/>
<ellipse cx="520.1" cy="247.4" rx="2.62" ry="5.84" fill="url(#g)" opacity="0.304"/>
<ellipse cx="513.2" cy="253.5" rx="6.25" ry="8.37" fill="url(#g)" opacity="0.368" transform="rotate(-30 513.2 253.5)"/>
<ellipse cx="536.8" cy="234.9" rx="5.12" ry="10.13" fill="url(#g)" opacity="0.396"/>
<ellipse cx="514.6" cy="268.0" rx="5.12" ry="8.37" fill="url(#g)" opacity="0.368"/>
<ellipse cx="507.7" cy="272.5" rx="5.12" ry="10.15" fill="url(#g)" opacity="0.35" transform="rotate(-20 507.7 272.5)"/>
<ellipse cx="493.5" cy="279.4" rx="5.12" ry="10.15" fill="url(#g)" opacity="0.35" transform="rotate(20 493.5 279.4)"/>
<ellipse cx="503" cy="290.1" rx="3.25" ry="8.37" fill="url(#g)" opacity="0.331"/>
<ellipse cx="509.3" cy="287.8" rx="4.50" ry="9.64" fill="url(#g)" opacity="0.35"/>
<ellipse cx="528.4" cy="286.1" rx="2.62" ry="8.37" fill="url(#g)" opacity="0.304"/>
<ellipse cx="552.6" cy="263.5" rx="3.25" ry="5.84" fill="url(#g)" opacity="0.304"/>
<ellipse cx="551.2" cy="275.9" rx="3.25" ry="8.37" fill="url(#g)" opacity="0.331"/>
<ellipse cx="550.6" cy="288.8" rx="2.62" ry="5.84" fill="url(#g)" opacity="0.304"/>
<ellipse cx="557.5" cy="286.5" rx="2.00" ry="2.66" fill="url(#g)" opacity="0.304"/>
<ellipse cx="560.5" cy="297.2" rx="3.25" ry="5.84" fill="url(#g)" opacity="0.313"/>
<ellipse cx="255.5" cy="338.6" rx="4.50" ry="9.64" fill="url(#g)" opacity="0.331"/>
<ellipse cx="313.6" cy="337.8" rx="6.56" ry="21.62" fill="url(#g)" opacity="0.88" transform="rotate(4 313.6 337.8)"/>
<ellipse cx="311.2" cy="352.0" rx="6.73" ry="18.91" fill="url(#g)" opacity="0.55" transform="rotate(6 311.2 352.0)"/>
<ellipse cx="308.8" cy="364.2" rx="6.03" ry="15.74" fill="url(#g)" opacity="0.78" transform="rotate(5 308.8 364.2)"/>
<ellipse cx="299.5" cy="362.2" rx="3.25" ry="8.37" fill="url(#g)" opacity="0.304"/>
<ellipse cx="319.8" cy="376.3" rx="3.25" ry="8.37" fill="url(#g)" opacity="0.331"/>
<ellipse cx="330.5" cy="306.1" rx="6.25" ry="19.03" fill="url(#g)" opacity="0.368" transform="rotate(20 330.5 306.1)"/>
<ellipse cx="347.1" cy="321.8" rx="13.79" ry="19.24" fill="url(#g)" opacity="0.78"/>
<ellipse cx="344.5" cy="309.9" rx="6.25" ry="10.15" fill="url(#g)" opacity="0.368"/>
<ellipse cx="361" cy="311.9" rx="7.50" ry="17.76" fill="url(#g)" opacity="0.386"/>
<ellipse cx="364" cy="326.1" rx="7.50" ry="20.30" fill="url(#g)" opacity="0.386" transform="rotate(-15 364 326.1)"/>
<ellipse cx="341" cy="342.3" rx="9.38" ry="40.60" fill="url(#g)" opacity="0.386" transform="rotate(20 341 342.3)"/>
<ellipse cx="329" cy="355.5" rx="12.50" ry="17.76" fill="url(#g)" opacity="0.35"/>
<ellipse cx="337" cy="357.6" rx="8.75" ry="12.69" fill="url(#g)" opacity="0.313"/>
<ellipse cx="355" cy="319.0" rx="10.00" ry="17.76" fill="url(#g)" opacity="0.386"/>
<ellipse cx="321" cy="349.4" rx="10.00" ry="10.15" fill="url(#g)" opacity="0.331"/>
<ellipse cx="376.4" cy="337.5" rx="4.74" ry="11.22" fill="url(#g)" opacity="0.97"/>
<ellipse cx="376.4" cy="330.7" rx="7.79" ry="41.37" fill="url(#g)" opacity="0.414"/>
<ellipse cx="391.5" cy="337.5" rx="5.99" ry="14.60" fill="url(#g)" opacity="0.414"/>
<ellipse cx="393.3" cy="309.2" rx="4.50" ry="12.69" fill="url(#g)" opacity="0.35"/>
<ellipse cx="383.6" cy="301.7" rx="5.00" ry="10.15" fill="url(#g)" opacity="0.35" transform="rotate(25 383.6 301.7)"/>
<ellipse cx="405.5" cy="349.8" rx="5.00" ry="7.10" fill="url(#g)" opacity="0.35"/>
<ellipse cx="400.3" cy="357.5" rx="4.50" ry="8.37" fill="url(#g)" opacity="0.331"/>
<ellipse cx="406.3" cy="378.4" rx="4.50" ry="7.10" fill="url(#g)" opacity="0.35"/>
<ellipse cx="426.6" cy="342.8" rx="11.04" ry="19.05" fill="url(#g)" opacity="0.46"/>
<ellipse cx="426" cy="332.2" rx="6.88" ry="17.76" fill="url(#g)" opacity="0.386"/>
<ellipse cx="445.8" cy="353.8" rx="4.50" ry="12.69" fill="url(#g)" opacity="0.331"/>
<ellipse cx="470.2" cy="323.0" rx="7.79" ry="36.51" fill="url(#g)" opacity="0.414" transform="rotate(4 470.2 323.0)"/>
<ellipse cx="462.4" cy="354.5" rx="8.06" ry="39.24" fill="url(#g)" opacity="0.52" transform="rotate(3 462.4 354.5)"/>
<ellipse cx="472.3" cy="370.7" rx="4.63" ry="23.48" fill="url(#g)" opacity="0.432"/>
<ellipse cx="482.2" cy="360.6" rx="5.12" ry="11.42" fill="url(#g)" opacity="0.35"/>
<ellipse cx="514.6" cy="349.0" rx="10.41" ry="17.61" fill="url(#g)" opacity="0.432"/>
<ellipse cx="507.4" cy="357.6" rx="3.25" ry="7.10" fill="url(#g)" opacity="0.313"/>
<ellipse cx="512" cy="377.9" rx="21.19" ry="11.95" fill="url(#g)" opacity="0.423"/>
<ellipse cx="514" cy="371.3" rx="9.59" ry="14.60" fill="url(#g)" opacity="0.414"/>
<ellipse cx="530" cy="316.6" rx="5.00" ry="13.95" fill="url(#g)" opacity="0.35"/>
<ellipse cx="540.5" cy="363.0" rx="8.28" ry="14.71" fill="url(#g)" opacity="0.55"/>
<ellipse cx="556.4" cy="375.8" rx="8.10" ry="18.79" fill="url(#g)" opacity="0.432"/>
</g></g>
<g clip-path="url(#clipa)"><g filter="url(#jet)">
<rect x="21" y="9.2" width="131" height="74.8" fill="rgb(6,6,6)"/>
<rect x="20" y="15" width="135" height="63" fill="url(#abase)" />
<ellipse cx="30.7" cy="78.0" rx="6.60" ry="58.00" fill="url(#g)" opacity="0.406"/>
<ellipse cx="36.5" cy="78.0" rx="5.50" ry="48.00" fill="url(#g)" opacity="0.319"/>
<ellipse cx="46.5" cy="78.0" rx="6.60" ry="58.00" fill="url(#g)" opacity="0.377"/>
<ellipse cx="56.6" cy="78.0" rx="6.60" ry="60.00" fill="url(#g)" opacity="0.435"/>
<ellipse cx="73.3" cy="78.0" rx="6.60" ry="50.00" fill="url(#g)" opacity="0.362"/>
<ellipse cx="82.0" cy="78.0" rx="5.50" ry="48.00" fill="url(#g)" opacity="0.319"/>
<ellipse cx="87.2" cy="78.0" rx="6.05" ry="55.00" fill="url(#g)" opacity="0.392"/>
<ellipse cx="92.6" cy="78.0" rx="5.50" ry="48.00" fill="url(#g)" opacity="0.348"/>
<ellipse cx="101.1" cy="78.0" rx="5.50" ry="45.00" fill="url(#g)" opacity="0.261"/>
<ellipse cx="110.7" cy="78.0" rx="6.60" ry="55.00" fill="url(#g)" opacity="0.406"/>
<ellipse cx="118.2" cy="78.0" rx="5.50" ry="49.00" fill="url(#g)" opacity="0.348"/>
<ellipse cx="126.7" cy="78.0" rx="6.05" ry="52.00" fill="url(#g)" opacity="0.362"/>
<ellipse cx="135.3" cy="78.0" rx="5.50" ry="47.00" fill="url(#g)" opacity="0.319"/>
<ellipse cx="142.7" cy="78.0" rx="5.50" ry="50.00" fill="url(#g)" opacity="0.348"/>
<ellipse cx="65.0" cy="56.0" rx="5.00" ry="15.00" fill="url(#k)" opacity="0.300"/>
<ellipse cx="105.5" cy="56.0" rx="3.50" ry="15.00" fill="url(#k)" opacity="0.250"/>
<ellipse cx="40.7" cy="56.0" rx="3.00" ry="13.00" fill="url(#k)" opacity="0.200"/>
<ellipse cx="30.0" cy="79.0" rx="4.00" ry="15.00" fill="url(#g)" opacity="0.550"/>
<ellipse cx="36.8" cy="79.0" rx="3.00" ry="14.00" fill="url(#g)" opacity="0.450"/>
<ellipse cx="56.4" cy="79.0" rx="3.25" ry="17.00" fill="url(#g)" opacity="0.780"/>
<ellipse cx="77.6" cy="79.0" rx="4.00" ry="13.00" fill="url(#g)" opacity="0.400"/>
<ellipse cx="84.0" cy="79.0" rx="3.50" ry="17.00" fill="url(#g)" opacity="0.800"/>
<ellipse cx="88.0" cy="79.0" rx="3.50" ry="18.00" fill="url(#g)" opacity="0.850"/>
<ellipse cx="93.6" cy="79.0" rx="3.00" ry="16.00" fill="url(#g)" opacity="0.750"/>
<ellipse cx="110.7" cy="79.0" rx="3.25" ry="17.00" fill="url(#g)" opacity="0.800"/>
<ellipse cx="118.2" cy="79.0" rx="3.00" ry="15.00" fill="url(#g)" opacity="0.620"/>
<ellipse cx="125.7" cy="79.0" rx="3.50" ry="15.00" fill="url(#g)" opacity="0.620"/>
<ellipse cx="130.0" cy="79.0" rx="3.50" ry="15.00" fill="url(#g)" opacity="0.600"/>
<ellipse cx="137.4" cy="79.0" rx="3.00" ry="13.00" fill="url(#g)" opacity="0.420"/>
<ellipse cx="142.7" cy="79.0" rx="3.00" ry="14.00" fill="url(#g)" opacity="0.500"/>
<ellipse cx="65.0" cy="79.0" rx="7.00" ry="9.00" fill="url(#g)" opacity="0.250"/>
<ellipse cx="46.0" cy="79.0" rx="6.00" ry="7.00" fill="url(#g)" opacity="0.150"/>
</g></g>
<g clip-path="url(#clipb)"><g filter="url(#jet)">
<rect x="21" y="113" width="131" height="69.30000000000001" fill="rgb(0,0,0)"/>
<ellipse cx="58.8" cy="164.2" rx="2.25" ry="12.00" fill="url(#g)" opacity="0.380" transform="rotate(4 58.8 164.2)"/>
<ellipse cx="71.2" cy="156.7" rx="6.00" ry="9.00" fill="url(#g)" opacity="0.120"/>
<ellipse cx="81.9" cy="159.9" rx="3.00" ry="12.00" fill="url(#g)" opacity="0.160"/>
<ellipse cx="63.8" cy="152.4" rx="3.00" ry="7.00" fill="url(#g)" opacity="0.080"/>
<ellipse cx="98.0" cy="161.0" rx="4.00" ry="9.00" fill="url(#g)" opacity="0.100"/>
<ellipse cx="106.0" cy="160.0" rx="3.00" ry="8.00" fill="url(#g)" opacity="0.100"/>
<ellipse cx="116.0" cy="161.0" rx="4.00" ry="9.00" fill="url(#g)" opacity="0.100"/>
<ellipse cx="110.7" cy="166.3" rx="2.00" ry="8.00" fill="url(#g)" opacity="0.170"/>
<ellipse cx="113.9" cy="172.7" rx="2.00" ry="5.00" fill="url(#g)" opacity="0.300"/>
<ellipse cx="90.4" cy="174.8" rx="2.50" ry="3.00" fill="url(#g)" opacity="0.250"/>
<ellipse cx="125.7" cy="175.4" rx="7.50" ry="3.75" fill="url(#g)" opacity="0.950"/>
<ellipse cx="125.7" cy="175.7" rx="3.50" ry="2.00" fill="url(#g)" opacity="0.500"/>
<ellipse cx="143.4" cy="174.6" rx="3.25" ry="3.50" fill="url(#g)" opacity="0.750"/>
<ellipse cx="38.1" cy="166.3" rx="2.50" ry="9.00" fill="url(#g)" opacity="0.080"/>
<ellipse cx="57.4" cy="171.6" rx="2.00" ry="5.00" fill="url(#g)" opacity="0.120"/>
<ellipse cx="128.9" cy="165.2" rx="3.00" ry="8.00" fill="url(#g)" opacity="0.100"/>
<ellipse cx="138.5" cy="171.6" rx="2.50" ry="5.00" fill="url(#g)" opacity="0.100"/>
<ellipse cx="76.0" cy="168.0" rx="2.50" ry="6.00" fill="url(#g)" opacity="0.080"/>
<ellipse cx="67.0" cy="168.0" rx="2.00" ry="6.00" fill="url(#g)" opacity="0.100"/>
</g></g>
<g clip-path="url(#clipc)"><g filter="url(#jet)">
<rect x="21" y="211.7" width="131" height="68.60000000000002" fill="rgb(13,13,13)"/>
<rect x="20" y="217.5" width="135" height="56.5" fill="url(#cbase)"/>
<ellipse cx="122.5" cy="243.0" rx="4.50" ry="8.00" fill="url(#k)" opacity="0.300"/>
<ellipse cx="143.0" cy="241.0" rx="4.00" ry="7.00" fill="url(#k)" opacity="0.250"/>
<ellipse cx="25.0" cy="236.0" rx="7.00" ry="30.00" fill="url(#k)" opacity="0.250"/>
<ellipse cx="30.0" cy="226.0" rx="15.00" ry="7.00" fill="url(#k)" opacity="0.300"/>
<ellipse cx="35.0" cy="256.0" rx="17.00" ry="7.00" fill="url(#k)" opacity="0.400"/>
<ellipse cx="132.0" cy="257.0" rx="15.00" ry="5.00" fill="url(#k)" opacity="0.200"/>
<ellipse cx="117.7" cy="252.7" rx="3.17" ry="12.14" fill="url(#g)" opacity="0.111" transform="rotate(1 117.7 252.7)"/>
<ellipse cx="50.9" cy="239.3" rx="3.38" ry="11.11" fill="url(#g)" opacity="0.087" transform="rotate(-2 50.9 239.3)"/>
<ellipse cx="42.1" cy="248.2" rx="3.84" ry="11.59" fill="url(#g)" opacity="0.148" transform="rotate(-6 42.1 248.2)"/>
<ellipse cx="44.8" cy="245.8" rx="4.57" ry="12.12" fill="url(#g)" opacity="0.139" transform="rotate(5 44.8 245.8)"/>
<ellipse cx="121.5" cy="238.8" rx="3.74" ry="12.00" fill="url(#g)" opacity="0.139" transform="rotate(-7 121.5 238.8)"/>
<ellipse cx="47.2" cy="248.0" rx="3.95" ry="13.03" fill="url(#g)" opacity="0.131" transform="rotate(-2 47.2 248.0)"/>
<ellipse cx="94.0" cy="244.3" rx="3.65" ry="13.71" fill="url(#g)" opacity="0.083" transform="rotate(-15 94.0 244.3)"/>
<ellipse cx="48.3" cy="244.8" rx="3.08" ry="9.93" fill="url(#g)" opacity="0.129" transform="rotate(13 48.3 244.8)"/>
<ellipse cx="67.8" cy="240.1" rx="3.61" ry="13.44" fill="url(#g)" opacity="0.126" transform="rotate(-10 67.8 240.1)"/>
<ellipse cx="49.0" cy="245.0" rx="4.57" ry="12.95" fill="url(#g)" opacity="0.159" transform="rotate(-10 49.0 245.0)"/>
<ellipse cx="85.8" cy="248.3" rx="4.89" ry="9.17" fill="url(#g)" opacity="0.177" transform="rotate(-18 85.8 248.3)"/>
<ellipse cx="75.0" cy="239.9" rx="3.05" ry="13.67" fill="url(#g)" opacity="0.142" transform="rotate(19 75.0 239.9)"/>
<ellipse cx="107.6" cy="248.8" rx="4.98" ry="13.24" fill="url(#g)" opacity="0.102" transform="rotate(19 107.6 248.8)"/>
<ellipse cx="71.7" cy="241.0" rx="3.39" ry="8.53" fill="url(#g)" opacity="0.116" transform="rotate(-12 71.7 241.0)"/>
<ellipse cx="118.4" cy="246.7" rx="3.21" ry="11.70" fill="url(#g)" opacity="0.080" transform="rotate(2 118.4 246.7)"/>
<ellipse cx="108.3" cy="242.5" rx="3.51" ry="10.95" fill="url(#g)" opacity="0.168" transform="rotate(-2 108.3 242.5)"/>
<ellipse cx="68.8" cy="249.1" rx="4.79" ry="12.81" fill="url(#g)" opacity="0.110" transform="rotate(8 68.8 249.1)"/>
<ellipse cx="109.7" cy="238.3" rx="4.28" ry="9.67" fill="url(#g)" opacity="0.095" transform="rotate(-4 109.7 238.3)"/>
<ellipse cx="104.8" cy="238.1" rx="4.65" ry="8.76" fill="url(#g)" opacity="0.136" transform="rotate(-7 104.8 238.1)"/>
<ellipse cx="87.0" cy="241.0" rx="4.67" ry="9.74" fill="url(#g)" opacity="0.174" transform="rotate(-17 87.0 241.0)"/>
<ellipse cx="87.2" cy="239.9" rx="4.12" ry="11.30" fill="url(#g)" opacity="0.114" transform="rotate(9 87.2 239.9)"/>
<ellipse cx="40.3" cy="241.3" rx="3.75" ry="13.50" fill="url(#g)" opacity="0.077" transform="rotate(15 40.3 241.3)"/>
<ellipse cx="57.1" cy="241.3" rx="3.90" ry="10.96" fill="url(#g)" opacity="0.070" transform="rotate(8 57.1 241.3)"/>
<ellipse cx="80.3" cy="240.4" rx="4.38" ry="11.77" fill="url(#g)" opacity="0.127" transform="rotate(1 80.3 240.4)"/>
<ellipse cx="65.0" cy="244.1" rx="4.75" ry="14.04" fill="url(#g)" opacity="0.120" transform="rotate(11 65.0 244.1)"/>
<ellipse cx="96.6" cy="242.1" rx="4.21" ry="10.04" fill="url(#g)" opacity="0.098" transform="rotate(-6 96.6 242.1)"/>
<ellipse cx="65.4" cy="246.6" rx="3.78" ry="10.94" fill="url(#g)" opacity="0.158" transform="rotate(-1 65.4 246.6)"/>
<ellipse cx="86.5" cy="242.0" rx="3.51" ry="9.95" fill="url(#g)" opacity="0.071" transform="rotate(-11 86.5 242.0)"/>
<ellipse cx="62.2" cy="245.7" rx="3.22" ry="11.24" fill="url(#g)" opacity="0.075" transform="rotate(3 62.2 245.7)"/>
<ellipse cx="77.1" cy="238.6" rx="4.72" ry="9.81" fill="url(#g)" opacity="0.162" transform="rotate(-10 77.1 238.6)"/>
<ellipse cx="122.5" cy="242.9" rx="4.61" ry="9.93" fill="url(#g)" opacity="0.103" transform="rotate(-14 122.5 242.9)"/>
<ellipse cx="110.3" cy="242.5" rx="3.18" ry="13.17" fill="url(#g)" opacity="0.107" transform="rotate(7 110.3 242.5)"/>
<ellipse cx="64.6" cy="251.4" rx="4.31" ry="9.19" fill="url(#g)" opacity="0.177" transform="rotate(16 64.6 251.4)"/>
<ellipse cx="55.3" cy="247.1" rx="3.04" ry="12.28" fill="url(#g)" opacity="0.077" transform="rotate(9 55.3 247.1)"/>
<ellipse cx="79.4" cy="241.4" rx="4.54" ry="13.75" fill="url(#g)" opacity="0.132" transform="rotate(4 79.4 241.4)"/>
<ellipse cx="67.5" cy="237.0" rx="3.27" ry="8.65" fill="url(#g)" opacity="0.163" transform="rotate(-12 67.5 237.0)"/>
<ellipse cx="75.8" cy="240.3" rx="4.07" ry="14.01" fill="url(#g)" opacity="0.112" transform="rotate(-6 75.8 240.3)"/>
<ellipse cx="94.7" cy="248.9" rx="4.49" ry="14.48" fill="url(#g)" opacity="0.097" transform="rotate(15 94.7 248.9)"/>
<ellipse cx="122.4" cy="246.1" rx="3.76" ry="13.42" fill="url(#g)" opacity="0.160" transform="rotate(-18 122.4 246.1)"/>
<ellipse cx="73.2" cy="242.5" rx="4.45" ry="13.31" fill="url(#g)" opacity="0.124" transform="rotate(-12 73.2 242.5)"/>
<ellipse cx="74.2" cy="246.4" rx="3.85" ry="13.76" fill="url(#g)" opacity="0.131" transform="rotate(-3 74.2 246.4)"/>
<ellipse cx="60.7" cy="243.9" rx="3.63" ry="12.70" fill="url(#g)" opacity="0.113" transform="rotate(-13 60.7 243.9)"/>
<ellipse cx="109.0" cy="233.0" rx="4.07" ry="12.36" fill="url(#g)" opacity="0.111" transform="rotate(4 109.0 233.0)"/>
<ellipse cx="117.2" cy="238.3" rx="4.96" ry="12.63" fill="url(#g)" opacity="0.112" transform="rotate(-17 117.2 238.3)"/>
<ellipse cx="110.6" cy="240.1" rx="3.11" ry="8.24" fill="url(#g)" opacity="0.107" transform="rotate(19 110.6 240.1)"/>
<ellipse cx="102.2" cy="246.1" rx="4.42" ry="12.68" fill="url(#g)" opacity="0.093" transform="rotate(-13 102.2 246.1)"/>
<ellipse cx="90.6" cy="248.6" rx="4.03" ry="11.80" fill="url(#g)" opacity="0.075" transform="rotate(-17 90.6 248.6)"/>
<ellipse cx="79.8" cy="245.2" rx="3.29" ry="12.49" fill="url(#g)" opacity="0.097" transform="rotate(5 79.8 245.2)"/>
<ellipse cx="103.0" cy="239.0" rx="3.39" ry="10.43" fill="url(#g)" opacity="0.177" transform="rotate(-9 103.0 239.0)"/>
<ellipse cx="63.9" cy="239.1" rx="3.99" ry="11.82" fill="url(#g)" opacity="0.155" transform="rotate(-8 63.9 239.1)"/>
<ellipse cx="120.9" cy="251.6" rx="4.14" ry="14.31" fill="url(#g)" opacity="0.078" transform="rotate(8 120.9 251.6)"/>
<ellipse cx="119.6" cy="244.8" rx="4.33" ry="8.79" fill="url(#g)" opacity="0.171" transform="rotate(19 119.6 244.8)"/>
<ellipse cx="49.3" cy="243.1" rx="3.16" ry="13.57" fill="url(#g)" opacity="0.146" transform="rotate(18 49.3 243.1)"/>
<ellipse cx="93.1" cy="241.5" rx="4.02" ry="9.90" fill="url(#g)" opacity="0.129" transform="rotate(20 93.1 241.5)"/>
<ellipse cx="94.3" cy="245.3" rx="4.47" ry="13.12" fill="url(#g)" opacity="0.069" transform="rotate(13 94.3 245.3)"/>
<ellipse cx="54.8" cy="240.3" rx="3.43" ry="8.43" fill="url(#g)" opacity="0.140" transform="rotate(-14 54.8 240.3)"/>
<ellipse cx="122.0" cy="251.9" rx="4.52" ry="11.99" fill="url(#g)" opacity="0.129" transform="rotate(12 122.0 251.9)"/>
<ellipse cx="93.5" cy="243.2" rx="3.28" ry="13.58" fill="url(#g)" opacity="0.102" transform="rotate(3 93.5 243.2)"/>
<ellipse cx="83.0" cy="246.8" rx="4.71" ry="8.57" fill="url(#g)" opacity="0.099" transform="rotate(7 83.0 246.8)"/>
<ellipse cx="91.4" cy="240.5" rx="4.66" ry="9.46" fill="url(#g)" opacity="0.157" transform="rotate(12 91.4 240.5)"/>
<ellipse cx="52.0" cy="246.1" rx="4.95" ry="12.30" fill="url(#g)" opacity="0.111" transform="rotate(0 52.0 246.1)"/>
<ellipse cx="108.0" cy="248.0" rx="4.04" ry="11.76" fill="url(#g)" opacity="0.131" transform="rotate(17 108.0 248.0)"/>
<ellipse cx="107.2" cy="245.3" rx="4.20" ry="13.76" fill="url(#g)" opacity="0.146" transform="rotate(18 107.2 245.3)"/>
<ellipse cx="116.9" cy="240.6" rx="3.26" ry="11.56" fill="url(#g)" opacity="0.103" transform="rotate(-12 116.9 240.6)"/>
<ellipse cx="82.1" cy="250.6" rx="3.20" ry="9.73" fill="url(#g)" opacity="0.104" transform="rotate(15 82.1 250.6)"/>
<ellipse cx="78.6" cy="242.1" rx="3.32" ry="11.85" fill="url(#g)" opacity="0.090" transform="rotate(-18 78.6 242.1)"/>
<ellipse cx="89.8" cy="250.9" rx="4.47" ry="9.07" fill="url(#g)" opacity="0.127" transform="rotate(5 89.8 250.9)"/>
<ellipse cx="103.8" cy="242.9" rx="3.89" ry="8.37" fill="url(#g)" opacity="0.171" transform="rotate(-9 103.8 242.9)"/>
<ellipse cx="102.0" cy="235.7" rx="3.68" ry="8.65" fill="url(#g)" opacity="0.111" transform="rotate(-1 102.0 235.7)"/>
<ellipse cx="106.6" cy="245.2" rx="3.81" ry="12.67" fill="url(#g)" opacity="0.105" transform="rotate(9 106.6 245.2)"/>
<ellipse cx="29.6" cy="247.0" rx="3.04" ry="11.29" fill="url(#g)" opacity="0.173"/>
<ellipse cx="37.4" cy="233.4" rx="3.16" ry="10.66" fill="url(#g)" opacity="0.173"/>
<ellipse cx="36.4" cy="249.4" rx="3.95" ry="11.63" fill="url(#g)" opacity="0.097"/>
<ellipse cx="31.5" cy="237.8" rx="3.79" ry="9.61" fill="url(#g)" opacity="0.194"/>
<ellipse cx="36.5" cy="236.0" rx="4.42" ry="9.00" fill="url(#g)" opacity="0.169"/>
<ellipse cx="36.0" cy="236.2" rx="3.60" ry="8.70" fill="url(#g)" opacity="0.098"/>
<ellipse cx="27.2" cy="238.3" rx="3.12" ry="9.43" fill="url(#g)" opacity="0.122"/>
<ellipse cx="40.9" cy="242.9" rx="4.17" ry="10.33" fill="url(#g)" opacity="0.182"/>
<ellipse cx="31.1" cy="244.1" rx="3.34" ry="11.93" fill="url(#g)" opacity="0.131"/>
<ellipse cx="40.3" cy="243.7" rx="3.37" ry="7.47" fill="url(#g)" opacity="0.155"/>
<ellipse cx="37.4" cy="239.7" rx="4.46" ry="10.44" fill="url(#g)" opacity="0.198"/>
<ellipse cx="41.7" cy="249.1" rx="3.22" ry="10.65" fill="url(#g)" opacity="0.170"/>
<ellipse cx="38.0" cy="237.3" rx="3.88" ry="11.25" fill="url(#g)" opacity="0.086"/>
<ellipse cx="32.6" cy="244.2" rx="3.47" ry="10.96" fill="url(#g)" opacity="0.094"/>
<ellipse cx="123.5" cy="239.9" rx="3.65" ry="11.33" fill="url(#g)" opacity="0.123"/>
<ellipse cx="124.4" cy="239.6" rx="4.00" ry="8.66" fill="url(#g)" opacity="0.149"/>
<ellipse cx="139.9" cy="230.2" rx="3.93" ry="11.26" fill="url(#g)" opacity="0.171"/>
<ellipse cx="143.6" cy="240.2" rx="4.12" ry="8.41" fill="url(#g)" opacity="0.141"/>
<ellipse cx="140.5" cy="239.7" rx="4.26" ry="11.12" fill="url(#g)" opacity="0.145"/>
<ellipse cx="137.4" cy="230.1" rx="3.07" ry="9.39" fill="url(#g)" opacity="0.167"/>
<ellipse cx="143.9" cy="241.1" rx="3.34" ry="11.43" fill="url(#g)" opacity="0.159"/>
<ellipse cx="126.6" cy="233.6" rx="3.06" ry="11.39" fill="url(#g)" opacity="0.149"/>
<ellipse cx="124.6" cy="244.6" rx="4.14" ry="11.03" fill="url(#g)" opacity="0.111"/>
<ellipse cx="134.5" cy="237.6" rx="3.26" ry="10.06" fill="url(#g)" opacity="0.132"/>
<ellipse cx="141.0" cy="240.5" rx="3.58" ry="7.01" fill="url(#g)" opacity="0.129"/>
<ellipse cx="145.1" cy="240.3" rx="4.30" ry="7.90" fill="url(#g)" opacity="0.180"/>
<ellipse cx="127.4" cy="238.5" rx="3.44" ry="8.01" fill="url(#g)" opacity="0.090"/>
<ellipse cx="126.2" cy="245.1" rx="3.29" ry="11.56" fill="url(#g)" opacity="0.085"/>
<ellipse cx="135.0" cy="239.9" rx="3.00" ry="8.86" fill="url(#g)" opacity="0.169"/>
<ellipse cx="122.6" cy="245.8" rx="3.62" ry="8.63" fill="url(#g)" opacity="0.138"/>
<ellipse cx="137.1" cy="246.8" rx="3.41" ry="10.86" fill="url(#g)" opacity="0.096"/>
<ellipse cx="124.3" cy="242.8" rx="3.29" ry="7.42" fill="url(#g)" opacity="0.110"/>
<ellipse cx="43.6" cy="219.9" rx="4.28" ry="10.64" fill="url(#g)" opacity="0.140"/>
<ellipse cx="87.5" cy="227.1" rx="3.07" ry="8.23" fill="url(#g)" opacity="0.160"/>
<ellipse cx="27.8" cy="224.1" rx="3.94" ry="12.25" fill="url(#g)" opacity="0.080"/>
<ellipse cx="74.8" cy="222.1" rx="3.87" ry="8.17" fill="url(#g)" opacity="0.170"/>
<ellipse cx="140.9" cy="224.5" rx="4.00" ry="12.18" fill="url(#g)" opacity="0.181"/>
<ellipse cx="124.5" cy="223.9" rx="3.13" ry="11.97" fill="url(#g)" opacity="0.181"/>
<ellipse cx="110.4" cy="222.1" rx="4.46" ry="11.11" fill="url(#g)" opacity="0.117"/>
<ellipse cx="120.5" cy="221.2" rx="3.36" ry="12.53" fill="url(#g)" opacity="0.087"/>
<ellipse cx="130.5" cy="223.0" rx="3.86" ry="11.45" fill="url(#g)" opacity="0.188"/>
<ellipse cx="53.2" cy="219.9" rx="3.77" ry="9.12" fill="url(#g)" opacity="0.131"/>
<ellipse cx="40.1" cy="219.9" rx="3.85" ry="8.26" fill="url(#g)" opacity="0.112"/>
<ellipse cx="73.2" cy="219.9" rx="4.21" ry="12.51" fill="url(#g)" opacity="0.084"/>
<ellipse cx="123.0" cy="220.8" rx="4.09" ry="8.30" fill="url(#g)" opacity="0.169"/>
<ellipse cx="138.0" cy="221.6" rx="3.25" ry="9.70" fill="url(#g)" opacity="0.183"/>
<ellipse cx="119.8" cy="220.6" rx="4.35" ry="11.70" fill="url(#g)" opacity="0.195"/>
<ellipse cx="142.8" cy="220.6" rx="4.09" ry="8.12" fill="url(#g)" opacity="0.103"/>
<ellipse cx="90.8" cy="221.3" rx="3.33" ry="9.79" fill="url(#g)" opacity="0.135"/>
<ellipse cx="136.2" cy="224.8" rx="3.83" ry="11.60" fill="url(#g)" opacity="0.103"/>
<ellipse cx="122.6" cy="226.6" rx="4.22" ry="10.25" fill="url(#g)" opacity="0.145"/>
<ellipse cx="35.9" cy="223.6" rx="3.97" ry="12.75" fill="url(#g)" opacity="0.188"/>
<ellipse cx="67.4" cy="226.6" rx="4.28" ry="12.81" fill="url(#g)" opacity="0.162"/>
<ellipse cx="66.2" cy="227.7" rx="3.02" ry="10.84" fill="url(#g)" opacity="0.135"/>
<ellipse cx="132.0" cy="225.2" rx="3.30" ry="8.83" fill="url(#g)" opacity="0.084"/>
<ellipse cx="116.5" cy="226.8" rx="3.56" ry="9.12" fill="url(#g)" opacity="0.147"/>
<ellipse cx="50.3" cy="224.3" rx="3.52" ry="9.60" fill="url(#g)" opacity="0.163"/>
<ellipse cx="56.6" cy="222.3" rx="3.85" ry="12.71" fill="url(#g)" opacity="0.098"/>
<ellipse cx="72.5" cy="256.7" rx="3.47" ry="9.44" fill="url(#g)" opacity="0.142"/>
<ellipse cx="59.2" cy="261.2" rx="3.65" ry="9.86" fill="url(#g)" opacity="0.110"/>
<ellipse cx="103.9" cy="255.8" rx="3.92" ry="9.01" fill="url(#g)" opacity="0.138"/>
<ellipse cx="103.1" cy="258.1" rx="4.48" ry="7.90" fill="url(#g)" opacity="0.061"/>
<ellipse cx="53.1" cy="260.9" rx="3.14" ry="10.68" fill="url(#g)" opacity="0.069"/>
<ellipse cx="71.5" cy="260.2" rx="3.03" ry="9.16" fill="url(#g)" opacity="0.160"/>
<ellipse cx="117.2" cy="257.9" rx="4.36" ry="9.85" fill="url(#g)" opacity="0.141"/>
<ellipse cx="76.4" cy="257.8" rx="4.05" ry="10.80" fill="url(#g)" opacity="0.129"/>
<ellipse cx="55.9" cy="258.2" rx="3.48" ry="8.16" fill="url(#g)" opacity="0.072"/>
<ellipse cx="119.3" cy="255.4" rx="3.53" ry="7.09" fill="url(#g)" opacity="0.130"/>
<ellipse cx="106.3" cy="254.8" rx="4.43" ry="11.97" fill="url(#g)" opacity="0.135"/>
<ellipse cx="125.4" cy="261.0" rx="3.03" ry="8.37" fill="url(#g)" opacity="0.084"/>
<ellipse cx="42.3" cy="260.4" rx="3.89" ry="8.81" fill="url(#g)" opacity="0.135"/>
<ellipse cx="64.8" cy="256.8" rx="3.17" ry="8.18" fill="url(#g)" opacity="0.145"/>
<ellipse cx="91.9" cy="261.4" rx="4.30" ry="10.33" fill="url(#g)" opacity="0.096"/>
<ellipse cx="142.5" cy="254.8" rx="3.62" ry="11.43" fill="url(#g)" opacity="0.128"/>
<ellipse cx="77.5" cy="262.3" rx="4.14" ry="10.62" fill="url(#g)" opacity="0.087"/>
<ellipse cx="112.1" cy="260.6" rx="4.26" ry="9.56" fill="url(#g)" opacity="0.153"/>
<ellipse cx="116.3" cy="256.1" rx="3.87" ry="7.98" fill="url(#g)" opacity="0.122"/>
<ellipse cx="74.5" cy="264.0" rx="3.51" ry="10.95" fill="url(#g)" opacity="0.144"/>
<ellipse cx="79.6" cy="259.9" rx="3.35" ry="8.88" fill="url(#g)" opacity="0.104"/>
<ellipse cx="115.4" cy="259.1" rx="3.24" ry="10.24" fill="url(#g)" opacity="0.112"/>
<ellipse cx="95.7" cy="258.5" rx="4.30" ry="10.27" fill="url(#g)" opacity="0.126"/>
<ellipse cx="93.1" cy="258.0" rx="3.64" ry="10.39" fill="url(#g)" opacity="0.104"/>
<ellipse cx="47.4" cy="256.2" rx="3.08" ry="7.25" fill="url(#g)" opacity="0.096"/>
<ellipse cx="80.0" cy="258.6" rx="3.30" ry="8.17" fill="url(#g)" opacity="0.105"/>
<ellipse cx="54.2" cy="241.5" rx="2.75" ry="8.50" fill="url(#g)" opacity="0.400" transform="rotate(-10 54.2 241.5)"/>
<ellipse cx="47.2" cy="243.5" rx="4.00" ry="6.50" fill="url(#g)" opacity="0.260"/>
<ellipse cx="56.2" cy="243.0" rx="3.00" ry="6.00" fill="url(#g)" opacity="0.220"/>
<ellipse cx="63.5" cy="239.5" rx="3.50" ry="6.50" fill="url(#g)" opacity="0.300"/>
<ellipse cx="69.0" cy="245.0" rx="3.50" ry="8.50" fill="url(#g)" opacity="0.600" transform="rotate(-25 69.0 245.0)"/>
<ellipse cx="73.0" cy="248.0" rx="3.50" ry="6.50" fill="url(#g)" opacity="0.420" transform="rotate(-25 73.0 248.0)"/>
<ellipse cx="77.5" cy="250.2" rx="3.50" ry="6.00" fill="url(#g)" opacity="0.250"/>
<ellipse cx="72.3" cy="235.5" rx="3.00" ry="6.00" fill="url(#g)" opacity="0.260"/>
<ellipse cx="82.2" cy="242.5" rx="3.75" ry="14.00" fill="url(#g)" opacity="0.880"/>
<ellipse cx="88.3" cy="243.5" rx="3.00" ry="11.00" fill="url(#g)" opacity="0.660"/>
<ellipse cx="95.8" cy="247.8" rx="3.25" ry="7.50" fill="url(#g)" opacity="0.460"/>
<ellipse cx="107.6" cy="243.0" rx="3.75" ry="10.00" fill="url(#g)" opacity="0.660" transform="rotate(25 107.6 243.0)"/>
<ellipse cx="113.0" cy="237.6" rx="3.00" ry="8.00" fill="url(#g)" opacity="0.420" transform="rotate(20 113.0 237.6)"/>
<ellipse cx="130.4" cy="233.5" rx="3.75" ry="5.50" fill="url(#g)" opacity="0.550"/>
<ellipse cx="102.6" cy="239.0" rx="3.50" ry="6.00" fill="url(#g)" opacity="0.250"/>
<ellipse cx="29.5" cy="240.0" rx="4.50" ry="6.50" fill="url(#g)" opacity="0.300"/>
<ellipse cx="37.4" cy="244.7" rx="4.50" ry="6.50" fill="url(#g)" opacity="0.220"/>
<ellipse cx="120.0" cy="240.0" rx="6.00" ry="8.00" fill="url(#g)" opacity="0.180"/>
<ellipse cx="141.7" cy="240.0" rx="5.00" ry="7.00" fill="url(#g)" opacity="0.100"/>
<ellipse cx="136.0" cy="236.0" rx="5.00" ry="7.00" fill="url(#g)" opacity="0.150"/>
<ellipse cx="86.9" cy="273.5" rx="3.50" ry="2.50" fill="url(#g)" opacity="0.400"/>
<ellipse cx="102.9" cy="273.8" rx="4.50" ry="2.25" fill="url(#g)" opacity="0.550"/>
<ellipse cx="117.0" cy="273.5" rx="3.00" ry="2.00" fill="url(#g)" opacity="0.200"/>
</g></g>
<rect x="27.5" y="15.7" width="118" height="61.8" fill="none" stroke="#000" stroke-width="1" stroke-opacity="0.7"/>
<rect x="27.5" y="119.5" width="118" height="56.30000000000001" fill="none" stroke="#000" stroke-width="1" stroke-opacity="0.7"/>
<rect x="27.5" y="218.2" width="118" height="55.60000000000002" fill="none" stroke="#000" stroke-width="1" stroke-opacity="0.7"/>
<rect x="222.5" y="15.5" width="341" height="160.3" fill="none" stroke="#000" stroke-width="1" stroke-opacity="0.7"/>
<rect x="222.5" y="218.0" width="341" height="162.7" fill="none" stroke="#000" stroke-width="1" stroke-opacity="0.7"/>
<path d="M257.5 176.3v-2.2M257.5 15v2.2M293.1 176.3v-2.2M293.1 15v2.2M328.7 176.3v-2.2M328.7 15v2.2M364.3 176.3v-2.2M364.3 15v2.2M399.9 176.3v-2.2M399.9 15v2.2M435.5 176.3v-2.2M435.5 15v2.2M471.1 176.3v-2.2M471.1 15v2.2M506.7 176.3v-2.2M506.7 15v2.2M542.3 176.3v-2.2M542.3 15v2.2M222 155.0h2.2M564 155.0h-2.2M222 134.9h2.2M564 134.9h-2.2M222 114.7h2.2M564 114.7h-2.2M222 94.6h2.2M564 94.6h-2.2M222 74.5h2.2M564 74.5h-2.2M222 54.4h2.2M564 54.4h-2.2M222 34.3h2.2M564 34.3h-2.2M257.5 381.2v-2.2M257.5 217.5v2.2M293.1 381.2v-2.2M293.1 217.5v2.2M328.7 381.2v-2.2M328.7 217.5v2.2M364.3 381.2v-2.2M364.3 217.5v2.2M399.9 381.2v-2.2M399.9 217.5v2.2M435.5 381.2v-2.2M435.5 217.5v2.2M471.1 381.2v-2.2M471.1 217.5v2.2M506.7 381.2v-2.2M506.7 217.5v2.2M542.3 381.2v-2.2M542.3 217.5v2.2M222 359.5h2.2M564 359.5h-2.2M222 339.1h2.2M564 339.1h-2.2M222 318.7h2.2M564 318.7h-2.2M222 298.3h2.2M564 298.3h-2.2M222 277.9h2.2M564 277.9h-2.2M222 257.5h2.2M564 257.5h-2.2M222 237.1h2.2M564 237.1h-2.2M57.9 78v-1.4M57.9 15.2v1.4M88.4 78v-1.4M88.4 15.2v1.4M119.0 78v-1.4M119.0 15.2v1.4M27 57.4h1.4M146 57.4h-1.4M27 38.6h1.4M146 38.6h-1.4M27 19.8h1.4M146 19.8h-1.4M57.9 176.3v-1.4M57.9 119v1.4M88.4 176.3v-1.4M88.4 119v1.4M119.0 176.3v-1.4M119.0 119v1.4M27 161.0h1.4M146 161.0h-1.4M27 146.5h1.4M146 146.5h-1.4M27 132.0h1.4M146 132.0h-1.4M57.9 274.3v-1.4M57.9 217.7v1.4M88.4 274.3v-1.4M88.4 217.7v1.4M119.0 274.3v-1.4M119.0 217.7v1.4M27 259.3h1.4M146 259.3h-1.4M27 245.1h1.4M146 245.1h-1.4M27 230.9h1.4M146 230.9h-1.4" stroke="#000" stroke-width="0.8" stroke-opacity="0.4" fill="none"/>
<rect x="150.8" y="14.8" width="15.399999999999977" height="63.400000000000006" fill="url(#cb)"/>
<rect x="151.3" y="15.3" width="14.399999999999977" height="62.400000000000006" fill="none" stroke="#000" stroke-width="1" stroke-opacity="0.5"/>
<rect x="151.2" y="118.5" width="16.0" height="57.900000000000006" fill="url(#cb)"/>
<rect x="151.7" y="119.0" width="15.0" height="56.900000000000006" fill="none" stroke="#000" stroke-width="1" stroke-opacity="0.5"/>
<rect x="150.8" y="217.8" width="15.399999999999977" height="57.0" fill="url(#cb)"/>
<rect x="151.3" y="218.3" width="14.399999999999977" height="56.0" fill="none" stroke="#000" stroke-width="1" stroke-opacity="0.5"/>
<rect x="569.6" y="15" width="20.399999999999977" height="161.3" fill="url(#cb)"/>
<rect x="570.1" y="15.5" width="19.399999999999977" height="160.3" fill="none" stroke="#000" stroke-width="1" stroke-opacity="0.5"/>
<rect x="569.6" y="217.5" width="20.399999999999977" height="163.7" fill="url(#cb)"/>
<rect x="570.1" y="218.0" width="19.399999999999977" height="162.7" fill="none" stroke="#000" stroke-width="1" stroke-opacity="0.5"/>
<rect x="167" y="118.5" width="3.8" height="57.9" fill="#000"/><rect x="167.8" y="137.7" width="2.7" height="19.9" fill="#fff"/>
<text x="0.2" y="11" font-size="16.5" font-weight="bold" textLength="10" lengthAdjust="spacingAndGlyphs">a</text>
<text x="-0.4" y="112.5" font-size="19.5" font-weight="bold">b</text>
<text x="0.3" y="211.2" font-size="18.5" font-weight="bold">c</text>
<text x="194.5" y="15.6" font-size="19.5" font-weight="bold">d</text>
<text x="194.3" y="215.6" font-size="19.5" font-weight="bold">e</text>
<text x="21.9" y="7.9" font-size="8.3" textLength="137.5" lengthAdjust="spacingAndGlyphs">Averaged EEG AutoCorr. Spectrum</text>
<text x="30.2" y="112" font-size="8.7" textLength="120.5" lengthAdjust="spacingAndGlyphs">Averaged CrossCorr. Spectrum</text>
<text x="21.9" y="210.6" font-size="8.7" textLength="138" lengthAdjust="spacingAndGlyphs">Averaged EMG AutoCorr. Spectrum</text>
<text x="331.9" y="8.4" font-size="8.75" textLength="129.2" lengthAdjust="spacingAndGlyphs">Significant EEG-EMG Cohorence</text>
<text x="353.4" y="210" font-size="8.75" textLength="85.1" lengthAdjust="spacingAndGlyphs">EEG-EMG Cohorence</text>
<text x="219.2" y="178.4" font-size="9.2" text-anchor="end">0</text>
<text x="219.2" y="158.28" font-size="9.2" text-anchor="end">10</text>
<text x="219.2" y="138.16" font-size="9.2" text-anchor="end">20</text>
<text x="219.2" y="118.03999999999999" font-size="9.2" text-anchor="end">30</text>
<text x="219.2" y="97.91999999999999" font-size="9.2" text-anchor="end">40</text>
<text x="219.2" y="77.79999999999998" font-size="9.2" text-anchor="end">50</text>
<text x="219.2" y="57.67999999999999" font-size="9.2" text-anchor="end">60</text>
<text x="219.2" y="37.55999999999999" font-size="9.2" text-anchor="end">70</text>
<text x="221.6" y="187.6" font-size="9.2" text-anchor="middle">0</text>
<text x="257.2" y="187.6" font-size="9.2" text-anchor="middle">0.2</text>
<text x="292.8" y="187.6" font-size="9.2" text-anchor="middle">0.4</text>
<text x="328.4" y="187.6" font-size="9.2" text-anchor="middle">0.6</text>
<text x="364.0" y="187.6" font-size="9.2" text-anchor="middle">0.8</text>
<text x="399.6" y="187.6" font-size="9.2" text-anchor="middle">1</text>
<text x="435.20000000000005" y="187.6" font-size="9.2" text-anchor="middle">1.2</text>
<text x="470.8" y="187.6" font-size="9.2" text-anchor="middle">1.4</text>
<text x="506.4" y="187.6" font-size="9.2" text-anchor="middle">1.6</text>
<text x="542.0" y="187.6" font-size="9.2" text-anchor="middle">1.8</text>
<text x="219.2" y="383.2" font-size="9.2" text-anchor="end">0</text>
<text x="219.2" y="362.8" font-size="9.2" text-anchor="end">10</text>
<text x="219.2" y="342.4" font-size="9.2" text-anchor="end">20</text>
<text x="219.2" y="322.0" font-size="9.2" text-anchor="end">30</text>
<text x="219.2" y="301.59999999999997" font-size="9.2" text-anchor="end">40</text>
<text x="219.2" y="281.2" font-size="9.2" text-anchor="end">50</text>
<text x="219.2" y="260.8" font-size="9.2" text-anchor="end">60</text>
<text x="219.2" y="240.4" font-size="9.2" text-anchor="end">70</text>
<text x="221.6" y="392.2" font-size="9.2" text-anchor="middle">0</text>
<text x="257.2" y="392.2" font-size="9.2" text-anchor="middle">0.2</text>
<text x="292.8" y="392.2" font-size="9.2" text-anchor="middle">0.4</text>
<text x="328.4" y="392.2" font-size="9.2" text-anchor="middle">0.6</text>
<text x="364.0" y="392.2" font-size="9.2" text-anchor="middle">0.8</text>
<text x="399.6" y="392.2" font-size="9.2" text-anchor="middle">1</text>
<text x="435.20000000000005" y="392.2" font-size="9.2" text-anchor="middle">1.2</text>
<text x="470.8" y="392.2" font-size="9.2" text-anchor="middle">1.4</text>
<text x="506.4" y="392.2" font-size="9.2" text-anchor="middle">1.6</text>
<text x="542.0" y="392.2" font-size="9.2" text-anchor="middle">1.8</text>
<text x="391.5" y="198.3" font-size="8.75" text-anchor="middle" textLength="31.2" lengthAdjust="spacingAndGlyphs">Time (s)</text>
<text x="391.5" y="403.3" font-size="8.75" text-anchor="middle" textLength="31.2" lengthAdjust="spacingAndGlyphs">Time (s)</text>
<text x="202.3" y="95.9" font-size="8.7" text-anchor="middle" textLength="59.5" lengthAdjust="spacingAndGlyphs" transform="rotate(-90 202.3 95.9)">Frequency (Hz)</text>
<text x="202.3" y="300.1" font-size="8.7" text-anchor="middle" textLength="59.7" lengthAdjust="spacingAndGlyphs" transform="rotate(-90 202.3 300.1)">Frequency (Hz)</text>
<text x="590.7" y="29.2" font-size="9">0.18</text>
<text x="590.7" y="46.059999999999995" font-size="9">0.16</text>
<text x="590.7" y="62.919999999999995" font-size="9">0.14</text>
<text x="590.7" y="79.77999999999999" font-size="9">0.12</text>
<text x="590.7" y="96.64" font-size="9">0.1</text>
<text x="590.7" y="113.49999999999999" font-size="9">0.08</text>
<text x="590.7" y="130.36" font-size="9">0.06</text>
<text x="590.7" y="147.22" font-size="9">0.04</text>
<text x="590.7" y="164.08" font-size="9">0.02</text>
<text x="590.7" y="232.10000000000002" font-size="9">0.18</text>
<text x="590.7" y="249.20000000000002" font-size="9">0.16</text>
<text x="590.7" y="266.3" font-size="9">0.14</text>
<text x="590.7" y="283.40000000000003" font-size="9">0.12</text>
<text x="590.7" y="300.50000000000006" font-size="9">0.1</text>
<text x="590.7" y="317.6" font-size="9">0.08</text>
<text x="590.7" y="334.70000000000005" font-size="9">0.06</text>
<text x="590.7" y="351.8" font-size="9">0.04</text>
<text x="590.7" y="368.90000000000003" font-size="9">0.02</text>
<text x="24.7" y="79.5" font-size="9" text-anchor="end">0</text>
<text x="24.7" y="60.7" font-size="9" text-anchor="end">10</text>
<text x="24.7" y="41.9" font-size="9" text-anchor="end">20</text>
<text x="24.7" y="23.099999999999998" font-size="9" text-anchor="end">30</text>
<text x="24.7" y="178.8" font-size="9" text-anchor="end">0</text>
<text x="24.7" y="164.3" font-size="9" text-anchor="end">20</text>
<text x="24.7" y="149.8" font-size="9" text-anchor="end">40</text>
<text x="24.7" y="135.3" font-size="9" text-anchor="end">60</text>
<text x="24.7" y="276.8" font-size="9" text-anchor="end">0</text>
<text x="24.7" y="262.6" font-size="9" text-anchor="end">20</text>
<text x="24.7" y="248.4" font-size="9" text-anchor="end">40</text>
<text x="24.7" y="234.20000000000002" font-size="9" text-anchor="end">60</text>
<text x="27.2" y="89.2" font-size="9.2" text-anchor="middle">0</text>
<text x="57.75" y="89.2" font-size="9.2" text-anchor="middle">0.5</text>
<text x="88.3" y="89.2" font-size="9.2" text-anchor="middle">1</text>
<text x="118.85000000000001" y="89.2" font-size="9.2" text-anchor="middle">1.5</text>
<text x="27.2" y="187.20000000000002" font-size="9.2" text-anchor="middle">0</text>
<text x="57.75" y="187.20000000000002" font-size="9.2" text-anchor="middle">0.5</text>
<text x="88.3" y="187.20000000000002" font-size="9.2" text-anchor="middle">1</text>
<text x="118.85000000000001" y="187.20000000000002" font-size="9.2" text-anchor="middle">1.5</text>
<text x="27.2" y="285.4" font-size="9.2" text-anchor="middle">0</text>
<text x="57.75" y="285.4" font-size="9.2" text-anchor="middle">0.5</text>
<text x="88.3" y="285.4" font-size="9.2" text-anchor="middle">1</text>
<text x="118.85000000000001" y="285.4" font-size="9.2" text-anchor="middle">1.5</text>
<text x="84.6" y="99.7" font-size="8.75" text-anchor="middle" textLength="31.2" lengthAdjust="spacingAndGlyphs">Time (s)</text>
<text x="84.6" y="199.2" font-size="8.75" text-anchor="middle" textLength="31.2" lengthAdjust="spacingAndGlyphs">Time (s)</text>
<text x="84.6" y="296.8" font-size="8.75" text-anchor="middle" textLength="31.2" lengthAdjust="spacingAndGlyphs">Time (s)</text>
<text x="8.4" y="46" font-size="8.8" text-anchor="middle" transform="rotate(-90 8.4 46)">Frequency (Hz)</text>
<text x="8.4" y="148" font-size="8.8" text-anchor="middle" transform="rotate(-90 8.4 148)">Frequency (Hz)</text>
<text x="8.4" y="246" font-size="8.8" text-anchor="middle" transform="rotate(-90 8.4 246)">Frequency (Hz)</text>
<text x="167.4" y="21.5" font-size="9.2">15</text>
<text x="167.4" y="41.699999999999996" font-size="9.2">10</text>
<text x="167.4" y="61.89999999999999" font-size="9.2">5</text>
<text x="171.6" y="131.20000000000002" font-size="9.2">3</text>
<text x="171.6" y="147.35000000000002" font-size="9.2">2</text>
<text x="171.6" y="163.5" font-size="9.2">1</text>
<text x="167.4" y="226.70000000000002" font-size="9.2">12</text>
<text x="167.4" y="235.74" font-size="9.2">10</text>
<text x="167.4" y="244.78000000000003" font-size="9.2">8</text>
<text x="167.4" y="253.82000000000002" font-size="9.2">6</text>
<text x="167.4" y="262.86" font-size="9.2">4</text>
<text x="167.4" y="271.90000000000003" font-size="9.2">2</text>
</svg></body></html>
